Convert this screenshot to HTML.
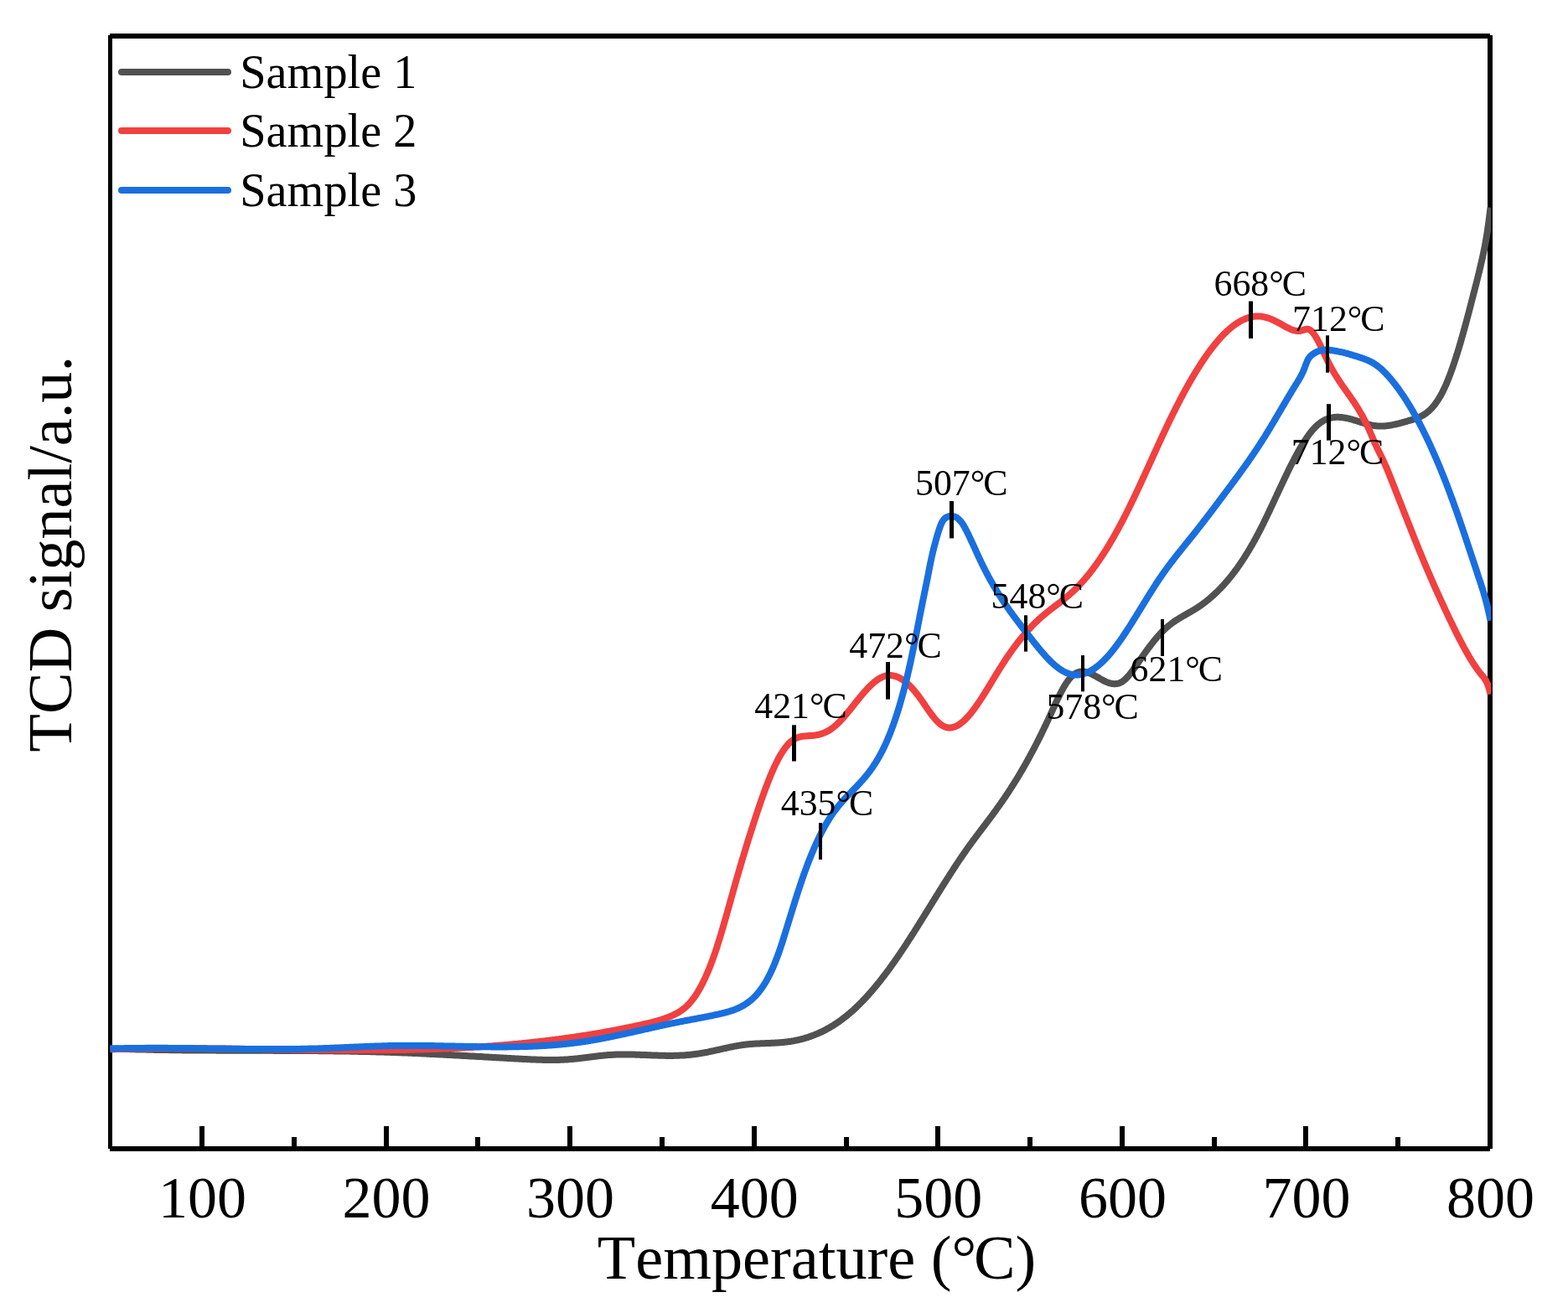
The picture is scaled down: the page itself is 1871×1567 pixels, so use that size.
<!DOCTYPE html>
<html><head><meta charset="utf-8"><title>TCD signal vs Temperature</title>
<style>
html,body{margin:0;padding:0;background:#fff;}
svg{display:block;}
text{font-family:"Liberation Serif",serif;fill:#000;font-kerning:none;}
</style></head><body>
<svg width="1871" height="1567" viewBox="0 0 1871 1567">
<rect width="1871" height="1567" fill="#fff"/>

<g stroke="#000" fill="none" shape-rendering="crispEdges">
<line x1="131" y1="43" x2="1778" y2="43" stroke-width="6"/>
<line x1="131" y1="1371" x2="1778" y2="1371" stroke-width="6"/>
<line x1="131.5" y1="42" x2="131.5" y2="1371" stroke-width="5"/>
<line x1="1778" y1="42" x2="1778" y2="1371" stroke-width="6"/>
<line x1="241" y1="1344" x2="241" y2="1369" stroke-width="6"/>
<line x1="461" y1="1344" x2="461" y2="1369" stroke-width="6"/>
<line x1="680" y1="1344" x2="680" y2="1369" stroke-width="6"/>
<line x1="900" y1="1344" x2="900" y2="1369" stroke-width="6"/>
<line x1="1119" y1="1344" x2="1119" y2="1369" stroke-width="6"/>
<line x1="1339" y1="1344" x2="1339" y2="1369" stroke-width="6"/>
<line x1="1558" y1="1344" x2="1558" y2="1369" stroke-width="6"/>
<line x1="351" y1="1357" x2="351" y2="1369" stroke-width="6"/>
<line x1="570" y1="1357" x2="570" y2="1369" stroke-width="6"/>
<line x1="790" y1="1357" x2="790" y2="1369" stroke-width="6"/>
<line x1="1010" y1="1357" x2="1010" y2="1369" stroke-width="6"/>
<line x1="1229" y1="1357" x2="1229" y2="1369" stroke-width="6"/>
<line x1="1449" y1="1357" x2="1449" y2="1369" stroke-width="6"/>
<line x1="1668" y1="1357" x2="1668" y2="1369" stroke-width="6"/>
</g>
<clipPath id="c"><rect x="129" y="40" width="1650" height="1334"/></clipPath>
<g fill="none" stroke-width="8" stroke-linejoin="round" stroke-linecap="butt" clip-path="url(#c)">
<path stroke="#515151" d="M131.5,1251.4 L132.5,1251.4 L133.5,1251.5 L134.5,1251.5 L135.5,1251.5 L136.5,1251.6 L137.5,1251.6 L138.5,1251.6 L139.5,1251.7 L140.5,1251.7 L141.5,1251.7 L142.5,1251.8 L143.5,1251.8 L144.5,1251.8 L145.5,1251.9 L146.5,1251.9 L147.5,1251.9 L148.5,1252.0 L149.5,1252.0 L150.5,1252.0 L151.5,1252.1 L152.5,1252.1 L153.5,1252.1 L154.5,1252.1 L155.5,1252.2 L156.5,1252.2 L157.5,1252.2 L158.5,1252.3 L159.5,1252.3 L160.5,1252.3 L161.5,1252.3 L162.5,1252.4 L163.5,1252.4 L164.5,1252.4 L165.5,1252.4 L166.5,1252.5 L167.5,1252.5 L168.5,1252.5 L169.5,1252.5 L170.5,1252.6 L171.5,1252.6 L172.5,1252.6 L173.5,1252.6 L174.5,1252.6 L175.5,1252.7 L176.5,1252.7 L177.5,1252.7 L178.5,1252.7 L179.5,1252.8 L180.5,1252.8 L181.5,1252.8 L182.5,1252.8 L183.5,1252.8 L184.5,1252.9 L185.5,1252.9 L186.5,1252.9 L187.5,1252.9 L188.5,1252.9 L189.5,1252.9 L190.5,1253.0 L191.5,1253.0 L192.5,1253.0 L193.5,1253.0 L194.5,1253.0 L195.5,1253.0 L196.5,1253.1 L197.5,1253.1 L198.5,1253.1 L199.5,1253.1 L200.5,1253.1 L201.5,1253.1 L202.5,1253.2 L203.5,1253.2 L204.5,1253.2 L205.5,1253.2 L206.5,1253.2 L207.5,1253.2 L208.5,1253.2 L209.5,1253.2 L210.5,1253.3 L211.5,1253.3 L212.5,1253.3 L213.5,1253.3 L214.5,1253.3 L215.5,1253.3 L216.5,1253.3 L217.5,1253.3 L218.5,1253.4 L219.5,1253.4 L220.5,1253.4 L221.5,1253.4 L222.5,1253.4 L223.5,1253.4 L224.5,1253.4 L225.5,1253.4 L226.5,1253.4 L227.5,1253.4 L228.5,1253.5 L229.5,1253.5 L230.5,1253.5 L231.5,1253.5 L232.5,1253.5 L233.5,1253.5 L234.5,1253.5 L235.5,1253.5 L236.5,1253.5 L237.5,1253.5 L238.5,1253.5 L239.5,1253.5 L240.5,1253.5 L241.5,1253.6 L242.5,1253.6 L243.5,1253.6 L244.5,1253.6 L245.5,1253.6 L246.5,1253.6 L247.5,1253.6 L248.5,1253.6 L249.5,1253.6 L250.5,1253.6 L251.5,1253.6 L252.5,1253.6 L253.5,1253.6 L254.5,1253.6 L255.5,1253.6 L256.5,1253.6 L257.5,1253.6 L258.5,1253.7 L259.5,1253.7 L260.5,1253.7 L261.5,1253.7 L262.5,1253.7 L263.5,1253.7 L264.5,1253.7 L265.5,1253.7 L266.5,1253.7 L267.5,1253.7 L268.5,1253.7 L269.5,1253.7 L270.5,1253.7 L271.5,1253.7 L272.5,1253.7 L273.5,1253.7 L274.5,1253.7 L275.5,1253.7 L276.5,1253.7 L277.5,1253.7 L278.5,1253.7 L279.5,1253.7 L280.5,1253.7 L281.5,1253.7 L282.5,1253.7 L283.5,1253.7 L284.5,1253.7 L285.5,1253.7 L286.5,1253.8 L287.5,1253.8 L288.5,1253.8 L289.5,1253.8 L290.5,1253.8 L291.5,1253.8 L292.5,1253.8 L293.5,1253.8 L294.5,1253.8 L295.5,1253.8 L296.5,1253.8 L297.5,1253.8 L298.5,1253.8 L299.5,1253.8 L300.5,1253.8 L301.5,1253.8 L302.5,1253.8 L303.5,1253.8 L304.5,1253.8 L305.5,1253.8 L306.5,1253.8 L307.5,1253.8 L308.5,1253.8 L309.5,1253.8 L310.5,1253.8 L311.5,1253.8 L312.5,1253.8 L313.5,1253.8 L314.5,1253.8 L315.5,1253.8 L316.5,1253.8 L317.5,1253.8 L318.5,1253.8 L319.5,1253.8 L320.5,1253.8 L321.5,1253.8 L322.5,1253.8 L323.5,1253.8 L324.5,1253.8 L325.5,1253.8 L326.5,1253.9 L327.5,1253.9 L328.5,1253.9 L329.5,1253.9 L330.5,1253.9 L331.5,1253.9 L332.5,1253.9 L333.5,1253.9 L334.5,1253.9 L335.5,1253.9 L336.5,1253.9 L337.5,1253.9 L338.5,1253.9 L339.5,1253.9 L340.5,1253.9 L341.5,1253.9 L342.5,1253.9 L343.5,1253.9 L344.5,1253.9 L345.5,1253.9 L346.5,1253.9 L347.5,1253.9 L348.5,1253.9 L349.5,1253.9 L350.5,1253.9 L351.5,1253.9 L352.5,1254.0 L353.5,1254.0 L354.5,1254.0 L355.5,1254.0 L356.5,1254.0 L357.5,1254.0 L358.5,1254.0 L359.5,1254.0 L360.5,1254.0 L361.5,1254.0 L362.5,1254.0 L363.5,1254.0 L364.5,1254.0 L365.5,1254.0 L366.5,1254.0 L367.5,1254.0 L368.5,1254.1 L369.5,1254.1 L370.5,1254.1 L371.5,1254.1 L372.5,1254.1 L373.5,1254.1 L374.5,1254.1 L375.5,1254.1 L376.5,1254.1 L377.5,1254.1 L378.5,1254.1 L379.5,1254.1 L380.5,1254.2 L381.5,1254.2 L382.5,1254.2 L383.5,1254.2 L384.5,1254.2 L385.5,1254.2 L386.5,1254.2 L387.5,1254.2 L388.5,1254.2 L389.5,1254.2 L390.5,1254.3 L391.5,1254.3 L392.5,1254.3 L393.5,1254.3 L394.5,1254.3 L395.5,1254.3 L396.5,1254.3 L397.5,1254.3 L398.5,1254.4 L399.5,1254.4 L400.5,1254.4 L401.5,1254.4 L402.5,1254.4 L403.5,1254.4 L404.5,1254.4 L405.5,1254.4 L406.5,1254.5 L407.5,1254.5 L408.5,1254.5 L409.5,1254.5 L410.5,1254.5 L411.5,1254.5 L412.5,1254.6 L413.5,1254.6 L414.5,1254.6 L415.5,1254.6 L416.5,1254.6 L417.5,1254.6 L418.5,1254.7 L419.5,1254.7 L420.5,1254.7 L421.5,1254.7 L422.5,1254.7 L423.5,1254.8 L424.5,1254.8 L425.5,1254.8 L426.5,1254.8 L427.5,1254.8 L428.5,1254.9 L429.5,1254.9 L430.5,1254.9 L431.5,1254.9 L432.5,1254.9 L433.5,1255.0 L434.5,1255.0 L435.5,1255.0 L436.5,1255.0 L437.5,1255.1 L438.5,1255.1 L439.5,1255.1 L440.5,1255.1 L441.5,1255.1 L442.5,1255.2 L443.5,1255.2 L444.5,1255.2 L445.5,1255.3 L446.5,1255.3 L447.5,1255.3 L448.5,1255.3 L449.5,1255.4 L450.5,1255.4 L451.5,1255.4 L452.5,1255.4 L453.5,1255.5 L454.5,1255.5 L455.5,1255.5 L456.5,1255.6 L457.5,1255.6 L458.5,1255.6 L459.5,1255.7 L460.5,1255.7 L461.5,1255.7 L462.5,1255.7 L463.5,1255.8 L464.5,1255.8 L465.5,1255.8 L466.5,1255.9 L467.5,1255.9 L468.5,1255.9 L469.5,1256.0 L470.5,1256.0 L471.5,1256.1 L472.5,1256.1 L473.5,1256.1 L474.5,1256.2 L475.5,1256.2 L476.5,1256.2 L477.5,1256.3 L478.5,1256.3 L479.5,1256.4 L480.5,1256.4 L481.5,1256.4 L482.5,1256.5 L483.5,1256.5 L484.5,1256.5 L485.5,1256.6 L486.5,1256.6 L487.5,1256.7 L488.5,1256.7 L489.5,1256.8 L490.5,1256.8 L491.5,1256.8 L492.5,1256.9 L493.5,1256.9 L494.5,1257.0 L495.5,1257.0 L496.5,1257.1 L497.5,1257.1 L498.5,1257.1 L499.5,1257.2 L500.5,1257.2 L501.5,1257.3 L502.5,1257.3 L503.5,1257.4 L504.5,1257.4 L505.5,1257.5 L506.5,1257.5 L507.5,1257.6 L508.5,1257.6 L509.5,1257.7 L510.5,1257.7 L511.5,1257.8 L512.5,1257.8 L513.5,1257.9 L514.5,1257.9 L515.5,1258.0 L516.5,1258.0 L517.5,1258.1 L518.5,1258.1 L519.5,1258.2 L520.5,1258.2 L521.5,1258.3 L522.5,1258.3 L523.5,1258.4 L524.5,1258.4 L525.5,1258.5 L526.5,1258.5 L527.5,1258.6 L528.5,1258.6 L529.5,1258.7 L530.5,1258.7 L531.5,1258.8 L532.5,1258.8 L533.5,1258.9 L534.5,1258.9 L535.5,1259.0 L536.5,1259.0 L537.5,1259.1 L538.5,1259.1 L539.5,1259.2 L540.5,1259.2 L541.5,1259.3 L542.5,1259.4 L543.5,1259.4 L544.5,1259.5 L545.5,1259.5 L546.5,1259.6 L547.5,1259.6 L548.5,1259.7 L549.5,1259.7 L550.5,1259.8 L551.5,1259.9 L552.5,1259.9 L553.5,1260.0 L554.5,1260.0 L555.5,1260.1 L556.5,1260.1 L557.5,1260.2 L558.5,1260.2 L559.5,1260.3 L560.5,1260.4 L561.5,1260.4 L562.5,1260.5 L563.5,1260.5 L564.5,1260.6 L565.5,1260.6 L566.5,1260.7 L567.5,1260.7 L568.5,1260.8 L569.5,1260.9 L570.5,1260.9 L571.5,1261.0 L572.5,1261.0 L573.5,1261.1 L574.5,1261.1 L575.5,1261.2 L576.5,1261.3 L577.5,1261.3 L578.5,1261.4 L579.5,1261.4 L580.5,1261.5 L581.5,1261.5 L582.5,1261.6 L583.5,1261.7 L584.5,1261.7 L585.5,1261.8 L586.5,1261.8 L587.5,1261.9 L588.5,1261.9 L589.5,1262.0 L590.5,1262.1 L591.5,1262.1 L592.5,1262.2 L593.5,1262.2 L594.5,1262.3 L595.5,1262.3 L596.5,1262.4 L597.5,1262.4 L598.5,1262.5 L599.5,1262.6 L600.5,1262.6 L601.5,1262.7 L602.5,1262.7 L603.5,1262.8 L604.5,1262.8 L605.5,1262.9 L606.5,1262.9 L607.5,1263.0 L608.5,1263.1 L609.5,1263.1 L610.5,1263.2 L611.5,1263.2 L612.5,1263.3 L613.5,1263.3 L614.5,1263.4 L615.5,1263.4 L616.5,1263.5 L617.5,1263.6 L618.5,1263.6 L619.5,1263.7 L620.5,1263.7 L621.5,1263.8 L622.5,1263.8 L623.5,1263.9 L624.5,1263.9 L625.5,1264.0 L626.5,1264.0 L627.5,1264.1 L628.5,1264.1 L629.5,1264.2 L630.5,1264.2 L631.5,1264.3 L632.5,1264.3 L633.5,1264.4 L634.5,1264.4 L635.5,1264.5 L636.5,1264.5 L637.5,1264.5 L638.5,1264.6 L639.5,1264.6 L640.5,1264.7 L641.5,1264.7 L642.5,1264.7 L643.5,1264.8 L644.5,1264.8 L645.5,1264.8 L646.5,1264.8 L647.5,1264.9 L648.5,1264.9 L649.5,1264.9 L650.5,1264.9 L651.5,1265.0 L652.5,1265.0 L653.5,1265.0 L654.5,1265.0 L655.5,1265.0 L656.5,1265.0 L657.5,1265.0 L658.5,1265.0 L659.5,1265.0 L660.5,1265.0 L661.5,1265.0 L662.5,1265.0 L663.5,1264.9 L664.5,1264.9 L665.5,1264.9 L666.5,1264.9 L667.5,1264.9 L668.5,1264.8 L669.5,1264.8 L670.5,1264.7 L671.5,1264.7 L672.5,1264.7 L673.5,1264.6 L674.5,1264.6 L675.5,1264.5 L676.5,1264.4 L677.5,1264.4 L678.5,1264.3 L679.5,1264.2 L680.5,1264.1 L681.5,1264.1 L682.5,1264.0 L683.5,1263.9 L684.5,1263.8 L685.5,1263.7 L686.5,1263.6 L687.5,1263.5 L688.5,1263.4 L689.5,1263.3 L690.5,1263.2 L691.5,1263.0 L692.5,1262.9 L693.5,1262.8 L694.5,1262.7 L695.5,1262.6 L696.5,1262.4 L697.5,1262.3 L698.5,1262.2 L699.5,1262.1 L700.5,1261.9 L701.5,1261.8 L702.5,1261.7 L703.5,1261.6 L704.5,1261.4 L705.5,1261.3 L706.5,1261.2 L707.5,1261.1 L708.5,1260.9 L709.5,1260.8 L710.5,1260.7 L711.5,1260.6 L712.5,1260.5 L713.5,1260.3 L714.5,1260.2 L715.5,1260.1 L716.5,1260.0 L717.5,1259.9 L718.5,1259.8 L719.5,1259.7 L720.5,1259.6 L721.5,1259.5 L722.5,1259.4 L723.5,1259.3 L724.5,1259.2 L725.5,1259.1 L726.5,1259.1 L727.5,1259.0 L728.5,1258.9 L729.5,1258.9 L730.5,1258.8 L731.5,1258.8 L732.5,1258.7 L733.5,1258.7 L734.5,1258.6 L735.5,1258.6 L736.5,1258.6 L737.5,1258.5 L738.5,1258.5 L739.5,1258.5 L740.5,1258.5 L741.5,1258.5 L742.5,1258.4 L743.5,1258.4 L744.5,1258.4 L745.5,1258.4 L746.5,1258.4 L747.5,1258.4 L748.5,1258.5 L749.5,1258.5 L750.5,1258.5 L751.5,1258.5 L752.5,1258.5 L753.5,1258.5 L754.5,1258.5 L755.5,1258.6 L756.5,1258.6 L757.5,1258.6 L758.5,1258.7 L759.5,1258.7 L760.5,1258.7 L761.5,1258.8 L762.5,1258.8 L763.5,1258.8 L764.5,1258.9 L765.5,1258.9 L766.5,1258.9 L767.5,1259.0 L768.5,1259.0 L769.5,1259.0 L770.5,1259.1 L771.5,1259.1 L772.5,1259.2 L773.5,1259.2 L774.5,1259.2 L775.5,1259.3 L776.5,1259.3 L777.5,1259.4 L778.5,1259.4 L779.5,1259.4 L780.5,1259.5 L781.5,1259.5 L782.5,1259.6 L783.5,1259.6 L784.5,1259.6 L785.5,1259.7 L786.5,1259.7 L787.5,1259.7 L788.5,1259.7 L789.5,1259.8 L790.5,1259.8 L791.5,1259.8 L792.5,1259.8 L793.5,1259.8 L794.5,1259.9 L795.5,1259.9 L796.5,1259.9 L797.5,1259.9 L798.5,1259.9 L799.5,1259.9 L800.5,1259.9 L801.5,1259.9 L802.5,1259.9 L803.5,1259.9 L804.5,1259.8 L805.5,1259.8 L806.5,1259.8 L807.5,1259.8 L808.5,1259.8 L809.5,1259.7 L810.5,1259.7 L811.5,1259.6 L812.5,1259.6 L813.5,1259.5 L814.5,1259.5 L815.5,1259.4 L816.5,1259.4 L817.5,1259.3 L818.5,1259.2 L819.5,1259.1 L820.5,1259.1 L821.5,1259.0 L822.5,1258.9 L823.5,1258.8 L824.5,1258.7 L825.5,1258.6 L826.5,1258.4 L827.5,1258.3 L828.5,1258.2 L829.5,1258.1 L830.5,1257.9 L831.5,1257.8 L832.5,1257.7 L833.5,1257.5 L834.5,1257.4 L835.5,1257.2 L836.5,1257.0 L837.5,1256.9 L838.5,1256.7 L839.5,1256.5 L840.5,1256.3 L841.5,1256.1 L842.5,1256.0 L843.5,1255.8 L844.5,1255.6 L845.5,1255.4 L846.5,1255.2 L847.5,1255.0 L848.5,1254.7 L849.5,1254.5 L850.5,1254.3 L851.5,1254.1 L852.5,1253.9 L853.5,1253.7 L854.5,1253.4 L855.5,1253.2 L856.5,1253.0 L857.5,1252.8 L858.5,1252.5 L859.5,1252.3 L860.5,1252.1 L861.5,1251.9 L862.5,1251.6 L863.5,1251.4 L864.5,1251.2 L865.5,1251.0 L866.5,1250.8 L867.5,1250.5 L868.5,1250.3 L869.5,1250.1 L870.5,1249.9 L871.5,1249.7 L872.5,1249.5 L873.5,1249.3 L874.5,1249.1 L875.5,1248.9 L876.5,1248.7 L877.5,1248.5 L878.5,1248.3 L879.5,1248.1 L880.5,1248.0 L881.5,1247.8 L882.5,1247.6 L883.5,1247.5 L884.5,1247.3 L885.5,1247.2 L886.5,1247.0 L887.5,1246.9 L888.5,1246.8 L889.5,1246.6 L890.5,1246.5 L891.5,1246.4 L892.5,1246.3 L893.5,1246.2 L894.5,1246.1 L895.5,1246.0 L896.5,1246.0 L897.5,1245.9 L898.5,1245.8 L899.5,1245.8 L900.5,1245.7 L901.5,1245.6 L902.5,1245.6 L903.5,1245.5 L904.5,1245.5 L905.5,1245.4 L906.5,1245.4 L907.5,1245.3 L908.5,1245.3 L909.5,1245.3 L910.5,1245.2 L911.5,1245.2 L912.5,1245.2 L913.5,1245.1 L914.5,1245.1 L915.5,1245.0 L916.5,1245.0 L917.5,1245.0 L918.5,1244.9 L919.5,1244.9 L920.5,1244.8 L921.5,1244.8 L922.5,1244.8 L923.5,1244.7 L924.5,1244.7 L925.5,1244.6 L926.5,1244.5 L927.5,1244.5 L928.5,1244.4 L929.5,1244.3 L930.5,1244.3 L931.5,1244.2 L932.5,1244.1 L933.5,1244.0 L934.5,1243.9 L935.5,1243.8 L936.5,1243.7 L937.5,1243.6 L938.5,1243.5 L939.5,1243.4 L940.5,1243.2 L941.5,1243.1 L942.5,1243.0 L943.5,1242.8 L944.5,1242.6 L945.5,1242.5 L946.5,1242.3 L947.5,1242.1 L948.5,1241.9 L949.5,1241.7 L950.5,1241.5 L951.5,1241.3 L952.5,1241.1 L953.5,1240.8 L954.5,1240.6 L955.5,1240.4 L956.5,1240.1 L957.5,1239.8 L958.5,1239.6 L959.5,1239.3 L960.5,1239.0 L961.5,1238.7 L962.5,1238.4 L963.5,1238.1 L964.5,1237.8 L965.5,1237.4 L966.5,1237.1 L967.5,1236.7 L968.5,1236.4 L969.5,1236.0 L970.5,1235.6 L971.5,1235.2 L972.5,1234.8 L973.5,1234.4 L974.5,1234.0 L975.5,1233.6 L976.5,1233.1 L977.5,1232.7 L978.5,1232.2 L979.5,1231.8 L980.5,1231.3 L981.5,1230.8 L982.5,1230.3 L983.5,1229.8 L984.5,1229.3 L985.5,1228.8 L986.5,1228.2 L987.5,1227.7 L988.5,1227.1 L989.5,1226.6 L990.5,1226.0 L991.5,1225.4 L992.5,1224.8 L993.5,1224.2 L994.5,1223.6 L995.5,1222.9 L996.5,1222.3 L997.5,1221.6 L998.5,1221.0 L999.5,1220.3 L1000.5,1219.6 L1001.5,1218.9 L1002.5,1218.2 L1003.5,1217.5 L1004.5,1216.7 L1005.5,1216.0 L1006.5,1215.2 L1007.5,1214.4 L1008.5,1213.7 L1009.5,1212.9 L1010.5,1212.1 L1011.5,1211.2 L1012.5,1210.4 L1013.5,1209.6 L1014.5,1208.7 L1015.5,1207.9 L1016.5,1207.0 L1017.5,1206.1 L1018.5,1205.2 L1019.5,1204.3 L1020.5,1203.3 L1021.5,1202.4 L1022.5,1201.4 L1023.5,1200.5 L1024.5,1199.5 L1025.5,1198.5 L1026.5,1197.5 L1027.5,1196.5 L1028.5,1195.5 L1029.5,1194.4 L1030.5,1193.4 L1031.5,1192.3 L1032.5,1191.3 L1033.5,1190.2 L1034.5,1189.1 L1035.5,1188.0 L1036.5,1186.9 L1037.5,1185.8 L1038.5,1184.6 L1039.5,1183.5 L1040.5,1182.3 L1041.5,1181.2 L1042.5,1180.0 L1043.5,1178.8 L1044.5,1177.6 L1045.5,1176.4 L1046.5,1175.2 L1047.5,1173.9 L1048.5,1172.7 L1049.5,1171.5 L1050.5,1170.2 L1051.5,1168.9 L1052.5,1167.6 L1053.5,1166.3 L1054.5,1165.1 L1055.5,1163.7 L1056.5,1162.4 L1057.5,1161.1 L1058.5,1159.8 L1059.5,1158.4 L1060.5,1157.1 L1061.5,1155.7 L1062.5,1154.3 L1063.5,1152.9 L1064.5,1151.5 L1065.5,1150.1 L1066.5,1148.7 L1067.5,1147.3 L1068.5,1145.9 L1069.5,1144.4 L1070.5,1143.0 L1071.5,1141.5 L1072.5,1140.1 L1073.5,1138.6 L1074.5,1137.1 L1075.5,1135.6 L1076.5,1134.1 L1077.5,1132.6 L1078.5,1131.1 L1079.5,1129.6 L1080.5,1128.1 L1081.5,1126.6 L1082.5,1125.0 L1083.5,1123.5 L1084.5,1121.9 L1085.5,1120.4 L1086.5,1118.8 L1087.5,1117.3 L1088.5,1115.7 L1089.5,1114.1 L1090.5,1112.6 L1091.5,1111.0 L1092.5,1109.4 L1093.5,1107.8 L1094.5,1106.2 L1095.5,1104.6 L1096.5,1103.0 L1097.5,1101.4 L1098.5,1099.8 L1099.5,1098.2 L1100.5,1096.6 L1101.5,1095.0 L1102.5,1093.4 L1103.5,1091.8 L1104.5,1090.2 L1105.5,1088.6 L1106.5,1086.9 L1107.5,1085.3 L1108.5,1083.7 L1109.5,1082.1 L1110.5,1080.5 L1111.5,1078.9 L1112.5,1077.2 L1113.5,1075.6 L1114.5,1074.0 L1115.5,1072.4 L1116.5,1070.8 L1117.5,1069.2 L1118.5,1067.6 L1119.5,1066.0 L1120.5,1064.3 L1121.5,1062.7 L1122.5,1061.1 L1123.5,1059.5 L1124.5,1057.9 L1125.5,1056.3 L1126.5,1054.8 L1127.5,1053.2 L1128.5,1051.6 L1129.5,1050.0 L1130.5,1048.4 L1131.5,1046.9 L1132.5,1045.3 L1133.5,1043.7 L1134.5,1042.2 L1135.5,1040.6 L1136.5,1039.1 L1137.5,1037.5 L1138.5,1036.0 L1139.5,1034.5 L1140.5,1033.0 L1141.5,1031.4 L1142.5,1029.9 L1143.5,1028.4 L1144.5,1026.9 L1145.5,1025.4 L1146.5,1024.0 L1147.5,1022.5 L1148.5,1021.0 L1149.5,1019.6 L1150.5,1018.1 L1151.5,1016.7 L1152.5,1015.2 L1153.5,1013.8 L1154.5,1012.4 L1155.5,1011.0 L1156.5,1009.6 L1157.5,1008.2 L1158.5,1006.9 L1159.5,1005.5 L1160.5,1004.1 L1161.5,1002.8 L1162.5,1001.4 L1163.5,1000.1 L1164.5,998.7 L1165.5,997.4 L1166.5,996.1 L1167.5,994.7 L1168.5,993.4 L1169.5,992.1 L1170.5,990.8 L1171.5,989.5 L1172.5,988.1 L1173.5,986.8 L1174.5,985.5 L1175.5,984.2 L1176.5,982.9 L1177.5,981.5 L1178.5,980.2 L1179.5,978.9 L1180.5,977.5 L1181.5,976.2 L1182.5,974.9 L1183.5,973.5 L1184.5,972.2 L1185.5,970.8 L1186.5,969.5 L1187.5,968.1 L1188.5,966.7 L1189.5,965.3 L1190.5,963.9 L1191.5,962.5 L1192.5,961.1 L1193.5,959.7 L1194.5,958.3 L1195.5,956.8 L1196.5,955.4 L1197.5,953.9 L1198.5,952.5 L1199.5,951.0 L1200.5,949.5 L1201.5,948.0 L1202.5,946.5 L1203.5,945.0 L1204.5,943.4 L1205.5,941.9 L1206.5,940.3 L1207.5,938.8 L1208.5,937.2 L1209.5,935.6 L1210.5,934.0 L1211.5,932.4 L1212.5,930.8 L1213.5,929.2 L1214.5,927.5 L1215.5,925.9 L1216.5,924.2 L1217.5,922.5 L1218.5,920.8 L1219.5,919.1 L1220.5,917.4 L1221.5,915.7 L1222.5,913.9 L1223.5,912.2 L1224.5,910.4 L1225.5,908.6 L1226.5,906.8 L1227.5,905.0 L1228.5,903.1 L1229.5,901.3 L1230.5,899.4 L1231.5,897.6 L1232.5,895.7 L1233.5,893.8 L1234.5,891.9 L1235.5,890.0 L1236.5,888.0 L1237.5,886.1 L1238.5,884.1 L1239.5,882.1 L1240.5,880.1 L1241.5,878.1 L1242.5,876.1 L1243.5,874.0 L1244.5,872.0 L1245.5,869.9 L1246.5,867.8 L1247.5,865.7 L1248.5,863.6 L1249.5,861.5 L1250.5,859.3 L1251.5,857.1 L1252.5,855.0 L1253.5,852.8 L1254.5,850.6 L1255.5,848.4 L1256.5,846.2 L1257.5,844.0 L1258.5,841.8 L1259.5,839.7 L1260.5,837.5 L1261.5,835.4 L1262.5,833.3 L1263.5,831.3 L1264.5,829.3 L1265.5,827.3 L1266.5,825.4 L1267.5,823.5 L1268.5,821.7 L1269.5,819.9 L1270.5,818.2 L1271.5,816.6 L1272.5,815.0 L1273.5,813.6 L1274.5,812.2 L1275.5,810.9 L1276.5,809.6 L1277.5,808.5 L1278.5,807.5 L1279.5,806.5 L1280.5,805.7 L1281.5,804.9 L1282.5,804.2 L1283.5,803.6 L1284.5,803.1 L1285.5,802.6 L1286.5,802.3 L1287.5,802.0 L1288.5,801.7 L1289.5,801.6 L1290.5,801.5 L1291.5,801.4 L1292.5,801.5 L1293.5,801.6 L1294.5,801.7 L1295.5,801.9 L1296.5,802.1 L1297.5,802.4 L1298.5,802.7 L1299.5,803.1 L1300.5,803.5 L1301.5,803.9 L1302.5,804.4 L1303.5,804.9 L1304.5,805.4 L1305.5,805.9 L1306.5,806.5 L1307.5,807.0 L1308.5,807.6 L1309.5,808.2 L1310.5,808.7 L1311.5,809.3 L1312.5,809.9 L1313.5,810.5 L1314.5,811.0 L1315.5,811.6 L1316.5,812.1 L1317.5,812.6 L1318.5,813.1 L1319.5,813.6 L1320.5,814.0 L1321.5,814.4 L1322.5,814.8 L1323.5,815.1 L1324.5,815.4 L1325.5,815.7 L1326.5,815.9 L1327.5,816.0 L1328.5,816.1 L1329.5,816.2 L1330.5,816.2 L1331.5,816.1 L1332.5,816.0 L1333.5,815.8 L1334.5,815.6 L1335.5,815.3 L1336.5,814.9 L1337.5,814.4 L1338.5,813.9 L1339.5,813.2 L1340.5,812.5 L1341.5,811.7 L1342.5,810.9 L1343.5,809.9 L1344.5,808.9 L1345.5,807.8 L1346.5,806.7 L1347.5,805.5 L1348.5,804.3 L1349.5,803.0 L1350.5,801.7 L1351.5,800.3 L1352.5,798.9 L1353.5,797.5 L1354.5,796.1 L1355.5,794.6 L1356.5,793.2 L1357.5,791.7 L1358.5,790.2 L1359.5,788.8 L1360.5,787.3 L1361.5,785.9 L1362.5,784.4 L1363.5,783.0 L1364.5,781.6 L1365.5,780.2 L1366.5,778.8 L1367.5,777.4 L1368.5,776.0 L1369.5,774.7 L1370.5,773.3 L1371.5,772.0 L1372.5,770.7 L1373.5,769.4 L1374.5,768.1 L1375.5,766.8 L1376.5,765.6 L1377.5,764.3 L1378.5,763.1 L1379.5,761.9 L1380.5,760.7 L1381.5,759.6 L1382.5,758.5 L1383.5,757.4 L1384.5,756.3 L1385.5,755.2 L1386.5,754.2 L1387.5,753.2 L1388.5,752.2 L1389.5,751.2 L1390.5,750.3 L1391.5,749.4 L1392.5,748.5 L1393.5,747.7 L1394.5,746.8 L1395.5,746.0 L1396.5,745.3 L1397.5,744.5 L1398.5,743.7 L1399.5,743.0 L1400.5,742.3 L1401.5,741.6 L1402.5,740.9 L1403.5,740.3 L1404.5,739.6 L1405.5,739.0 L1406.5,738.4 L1407.5,737.8 L1408.5,737.1 L1409.5,736.5 L1410.5,736.0 L1411.5,735.4 L1412.5,734.8 L1413.5,734.2 L1414.5,733.6 L1415.5,733.1 L1416.5,732.5 L1417.5,731.9 L1418.5,731.4 L1419.5,730.8 L1420.5,730.2 L1421.5,729.6 L1422.5,729.0 L1423.5,728.5 L1424.5,727.9 L1425.5,727.2 L1426.5,726.6 L1427.5,726.0 L1428.5,725.4 L1429.5,724.7 L1430.5,724.0 L1431.5,723.4 L1432.5,722.7 L1433.5,722.0 L1434.5,721.3 L1435.5,720.5 L1436.5,719.8 L1437.5,719.0 L1438.5,718.3 L1439.5,717.5 L1440.5,716.7 L1441.5,715.9 L1442.5,715.1 L1443.5,714.2 L1444.5,713.4 L1445.5,712.5 L1446.5,711.6 L1447.5,710.7 L1448.5,709.8 L1449.5,708.9 L1450.5,707.9 L1451.5,707.0 L1452.5,706.0 L1453.5,705.0 L1454.5,704.0 L1455.5,703.0 L1456.5,702.0 L1457.5,700.9 L1458.5,699.8 L1459.5,698.8 L1460.5,697.7 L1461.5,696.5 L1462.5,695.4 L1463.5,694.3 L1464.5,693.1 L1465.5,691.9 L1466.5,690.7 L1467.5,689.5 L1468.5,688.2 L1469.5,687.0 L1470.5,685.7 L1471.5,684.4 L1472.5,683.1 L1473.5,681.8 L1474.5,680.4 L1475.5,679.1 L1476.5,677.7 L1477.5,676.3 L1478.5,674.8 L1479.5,673.4 L1480.5,671.9 L1481.5,670.5 L1482.5,668.9 L1483.5,667.4 L1484.5,665.9 L1485.5,664.3 L1486.5,662.7 L1487.5,661.1 L1488.5,659.5 L1489.5,657.9 L1490.5,656.2 L1491.5,654.5 L1492.5,652.8 L1493.5,651.1 L1494.5,649.4 L1495.5,647.6 L1496.5,645.8 L1497.5,644.0 L1498.5,642.1 L1499.5,640.3 L1500.5,638.4 L1501.5,636.5 L1502.5,634.6 L1503.5,632.6 L1504.5,630.7 L1505.5,628.7 L1506.5,626.7 L1507.5,624.7 L1508.5,622.6 L1509.5,620.6 L1510.5,618.5 L1511.5,616.5 L1512.5,614.4 L1513.5,612.3 L1514.5,610.2 L1515.5,608.0 L1516.5,605.9 L1517.5,603.8 L1518.5,601.6 L1519.5,599.5 L1520.5,597.4 L1521.5,595.2 L1522.5,593.1 L1523.5,590.9 L1524.5,588.8 L1525.5,586.6 L1526.5,584.5 L1527.5,582.3 L1528.5,580.2 L1529.5,578.1 L1530.5,576.0 L1531.5,573.8 L1532.5,571.7 L1533.5,569.6 L1534.5,567.6 L1535.5,565.5 L1536.5,563.4 L1537.5,561.4 L1538.5,559.3 L1539.5,557.3 L1540.5,555.3 L1541.5,553.4 L1542.5,551.4 L1543.5,549.5 L1544.5,547.5 L1545.5,545.7 L1546.5,543.8 L1547.5,541.9 L1548.5,540.1 L1549.5,538.3 L1550.5,536.6 L1551.5,534.8 L1552.5,533.1 L1553.5,531.5 L1554.5,529.8 L1555.5,528.2 L1556.5,526.6 L1557.5,525.1 L1558.5,523.6 L1559.5,522.1 L1560.5,520.7 L1561.5,519.3 L1562.5,517.9 L1563.5,516.6 L1564.5,515.4 L1565.5,514.1 L1566.5,513.0 L1567.5,511.8 L1568.5,510.8 L1569.5,509.7 L1570.5,508.7 L1571.5,507.8 L1572.5,506.9 L1573.5,506.1 L1574.5,505.3 L1575.5,504.5 L1576.5,503.8 L1577.5,503.2 L1578.5,502.5 L1579.5,502.0 L1580.5,501.4 L1581.5,500.9 L1582.5,500.5 L1583.5,500.1 L1584.5,499.7 L1585.5,499.4 L1586.5,499.1 L1587.5,498.8 L1588.5,498.6 L1589.5,498.4 L1590.5,498.2 L1591.5,498.1 L1592.5,497.9 L1593.5,497.9 L1594.5,497.8 L1595.5,497.8 L1596.5,497.8 L1597.5,497.8 L1598.5,497.9 L1599.5,497.9 L1600.5,498.0 L1601.5,498.1 L1602.5,498.3 L1603.5,498.4 L1604.5,498.6 L1605.5,498.8 L1606.5,499.0 L1607.5,499.2 L1608.5,499.4 L1609.5,499.6 L1610.5,499.9 L1611.5,500.2 L1612.5,500.4 L1613.5,500.7 L1614.5,501.0 L1615.5,501.3 L1616.5,501.6 L1617.5,501.9 L1618.5,502.2 L1619.5,502.5 L1620.5,502.9 L1621.5,503.2 L1622.5,503.5 L1623.5,503.8 L1624.5,504.1 L1625.5,504.4 L1626.5,504.7 L1627.5,505.1 L1628.5,505.3 L1629.5,505.6 L1630.5,505.9 L1631.5,506.2 L1632.5,506.5 L1633.5,506.7 L1634.5,506.9 L1635.5,507.2 L1636.5,507.4 L1637.5,507.6 L1638.5,507.8 L1639.5,507.9 L1640.5,508.1 L1641.5,508.2 L1642.5,508.3 L1643.5,508.4 L1644.5,508.5 L1645.5,508.5 L1646.5,508.6 L1647.5,508.6 L1648.5,508.6 L1649.5,508.5 L1650.5,508.5 L1651.5,508.5 L1652.5,508.4 L1653.5,508.3 L1654.5,508.2 L1655.5,508.1 L1656.5,507.9 L1657.5,507.8 L1658.5,507.7 L1659.5,507.5 L1660.5,507.3 L1661.5,507.1 L1662.5,506.9 L1663.5,506.7 L1664.5,506.5 L1665.5,506.3 L1666.5,506.0 L1667.5,505.8 L1668.5,505.6 L1669.5,505.3 L1670.5,505.0 L1671.5,504.8 L1672.5,504.5 L1673.5,504.2 L1674.5,504.0 L1675.5,503.7 L1676.5,503.4 L1677.5,503.1 L1678.5,502.8 L1679.5,502.5 L1680.5,502.2 L1681.5,502.0 L1682.5,501.7 L1683.5,501.4 L1684.5,501.1 L1685.5,500.8 L1686.5,500.5 L1687.5,500.1 L1688.5,499.8 L1689.5,499.5 L1690.5,499.1 L1691.5,498.7 L1692.5,498.3 L1693.5,497.9 L1694.5,497.4 L1695.5,496.9 L1696.5,496.4 L1697.5,495.8 L1698.5,495.3 L1699.5,494.6 L1700.5,494.0 L1701.5,493.3 L1702.5,492.5 L1703.5,491.7 L1704.5,490.9 L1705.5,490.0 L1706.5,489.0 L1707.5,488.0 L1708.5,487.0 L1709.5,485.9 L1710.5,484.7 L1711.5,483.5 L1712.5,482.2 L1713.5,480.8 L1714.5,479.4 L1715.5,477.9 L1716.5,476.3 L1717.5,474.7 L1718.5,473.0 L1719.5,471.2 L1720.5,469.3 L1721.5,467.4 L1722.5,465.4 L1723.5,463.3 L1724.5,461.1 L1725.5,458.9 L1726.5,456.5 L1727.5,454.1 L1728.5,451.6 L1729.5,449.1 L1730.5,446.4 L1731.5,443.7 L1732.5,440.9 L1733.5,438.1 L1734.5,435.1 L1735.5,432.2 L1736.5,429.1 L1737.5,426.0 L1738.5,422.8 L1739.5,419.6 L1740.5,416.3 L1741.5,413.0 L1742.5,409.6 L1743.5,406.1 L1744.5,402.6 L1745.5,399.1 L1746.5,395.5 L1747.5,391.9 L1748.5,388.2 L1749.5,384.5 L1750.5,380.8 L1751.5,377.0 L1752.5,373.2 L1753.5,369.4 L1754.5,365.6 L1755.5,361.7 L1756.5,357.8 L1757.5,354.0 L1758.5,350.1 L1759.5,346.2 L1760.5,342.3 L1761.5,338.4 L1762.5,334.4 L1763.5,330.4 L1764.5,326.4 L1765.5,322.2 L1766.5,318.0 L1767.5,313.7 L1768.5,309.3 L1769.5,304.8 L1770.5,300.1 L1771.5,295.2 L1772.5,289.9 L1773.5,284.2 L1774.5,278.1 L1775.5,271.4 L1776.5,264.1 L1777.5,256.1 L1778.5,247.7"/>
<path stroke="#F14040" d="M131.5,1252.3 L132.5,1252.3 L133.5,1252.3 L134.5,1252.2 L135.5,1252.2 L136.5,1252.2 L137.5,1252.1 L138.5,1252.1 L139.5,1252.1 L140.5,1252.1 L141.5,1252.0 L142.5,1252.0 L143.5,1252.0 L144.5,1252.0 L145.5,1251.9 L146.5,1251.9 L147.5,1251.9 L148.5,1251.9 L149.5,1251.8 L150.5,1251.8 L151.5,1251.8 L152.5,1251.8 L153.5,1251.8 L154.5,1251.7 L155.5,1251.7 L156.5,1251.7 L157.5,1251.7 L158.5,1251.7 L159.5,1251.6 L160.5,1251.6 L161.5,1251.6 L162.5,1251.6 L163.5,1251.6 L164.5,1251.6 L165.5,1251.5 L166.5,1251.5 L167.5,1251.5 L168.5,1251.5 L169.5,1251.5 L170.5,1251.5 L171.5,1251.5 L172.5,1251.4 L173.5,1251.4 L174.5,1251.4 L175.5,1251.4 L176.5,1251.4 L177.5,1251.4 L178.5,1251.4 L179.5,1251.4 L180.5,1251.4 L181.5,1251.3 L182.5,1251.3 L183.5,1251.3 L184.5,1251.3 L185.5,1251.3 L186.5,1251.3 L187.5,1251.3 L188.5,1251.3 L189.5,1251.3 L190.5,1251.3 L191.5,1251.3 L192.5,1251.3 L193.5,1251.3 L194.5,1251.2 L195.5,1251.2 L196.5,1251.2 L197.5,1251.2 L198.5,1251.2 L199.5,1251.2 L200.5,1251.2 L201.5,1251.2 L202.5,1251.2 L203.5,1251.2 L204.5,1251.2 L205.5,1251.2 L206.5,1251.2 L207.5,1251.2 L208.5,1251.2 L209.5,1251.2 L210.5,1251.2 L211.5,1251.2 L212.5,1251.2 L213.5,1251.2 L214.5,1251.2 L215.5,1251.2 L216.5,1251.2 L217.5,1251.2 L218.5,1251.2 L219.5,1251.2 L220.5,1251.2 L221.5,1251.2 L222.5,1251.2 L223.5,1251.2 L224.5,1251.2 L225.5,1251.2 L226.5,1251.2 L227.5,1251.2 L228.5,1251.2 L229.5,1251.2 L230.5,1251.2 L231.5,1251.2 L232.5,1251.3 L233.5,1251.3 L234.5,1251.3 L235.5,1251.3 L236.5,1251.3 L237.5,1251.3 L238.5,1251.3 L239.5,1251.3 L240.5,1251.3 L241.5,1251.3 L242.5,1251.3 L243.5,1251.3 L244.5,1251.3 L245.5,1251.3 L246.5,1251.3 L247.5,1251.4 L248.5,1251.4 L249.5,1251.4 L250.5,1251.4 L251.5,1251.4 L252.5,1251.4 L253.5,1251.4 L254.5,1251.4 L255.5,1251.4 L256.5,1251.4 L257.5,1251.4 L258.5,1251.5 L259.5,1251.5 L260.5,1251.5 L261.5,1251.5 L262.5,1251.5 L263.5,1251.5 L264.5,1251.5 L265.5,1251.5 L266.5,1251.5 L267.5,1251.5 L268.5,1251.6 L269.5,1251.6 L270.5,1251.6 L271.5,1251.6 L272.5,1251.6 L273.5,1251.6 L274.5,1251.6 L275.5,1251.6 L276.5,1251.7 L277.5,1251.7 L278.5,1251.7 L279.5,1251.7 L280.5,1251.7 L281.5,1251.7 L282.5,1251.7 L283.5,1251.7 L284.5,1251.8 L285.5,1251.8 L286.5,1251.8 L287.5,1251.8 L288.5,1251.8 L289.5,1251.8 L290.5,1251.8 L291.5,1251.8 L292.5,1251.9 L293.5,1251.9 L294.5,1251.9 L295.5,1251.9 L296.5,1251.9 L297.5,1251.9 L298.5,1251.9 L299.5,1252.0 L300.5,1252.0 L301.5,1252.0 L302.5,1252.0 L303.5,1252.0 L304.5,1252.0 L305.5,1252.0 L306.5,1252.1 L307.5,1252.1 L308.5,1252.1 L309.5,1252.1 L310.5,1252.1 L311.5,1252.1 L312.5,1252.1 L313.5,1252.2 L314.5,1252.2 L315.5,1252.2 L316.5,1252.2 L317.5,1252.2 L318.5,1252.2 L319.5,1252.3 L320.5,1252.3 L321.5,1252.3 L322.5,1252.3 L323.5,1252.3 L324.5,1252.3 L325.5,1252.3 L326.5,1252.4 L327.5,1252.4 L328.5,1252.4 L329.5,1252.4 L330.5,1252.4 L331.5,1252.4 L332.5,1252.4 L333.5,1252.5 L334.5,1252.5 L335.5,1252.5 L336.5,1252.5 L337.5,1252.5 L338.5,1252.5 L339.5,1252.5 L340.5,1252.6 L341.5,1252.6 L342.5,1252.6 L343.5,1252.6 L344.5,1252.6 L345.5,1252.6 L346.5,1252.6 L347.5,1252.7 L348.5,1252.7 L349.5,1252.7 L350.5,1252.7 L351.5,1252.7 L352.5,1252.7 L353.5,1252.7 L354.5,1252.8 L355.5,1252.8 L356.5,1252.8 L357.5,1252.8 L358.5,1252.8 L359.5,1252.8 L360.5,1252.8 L361.5,1252.8 L362.5,1252.9 L363.5,1252.9 L364.5,1252.9 L365.5,1252.9 L366.5,1252.9 L367.5,1252.9 L368.5,1252.9 L369.5,1252.9 L370.5,1253.0 L371.5,1253.0 L372.5,1253.0 L373.5,1253.0 L374.5,1253.0 L375.5,1253.0 L376.5,1253.0 L377.5,1253.0 L378.5,1253.0 L379.5,1253.1 L380.5,1253.1 L381.5,1253.1 L382.5,1253.1 L383.5,1253.1 L384.5,1253.1 L385.5,1253.1 L386.5,1253.1 L387.5,1253.1 L388.5,1253.1 L389.5,1253.2 L390.5,1253.2 L391.5,1253.2 L392.5,1253.2 L393.5,1253.2 L394.5,1253.2 L395.5,1253.2 L396.5,1253.2 L397.5,1253.2 L398.5,1253.2 L399.5,1253.2 L400.5,1253.2 L401.5,1253.2 L402.5,1253.3 L403.5,1253.3 L404.5,1253.3 L405.5,1253.3 L406.5,1253.3 L407.5,1253.3 L408.5,1253.3 L409.5,1253.3 L410.5,1253.3 L411.5,1253.3 L412.5,1253.3 L413.5,1253.3 L414.5,1253.3 L415.5,1253.3 L416.5,1253.3 L417.5,1253.3 L418.5,1253.3 L419.5,1253.3 L420.5,1253.3 L421.5,1253.3 L422.5,1253.3 L423.5,1253.3 L424.5,1253.3 L425.5,1253.3 L426.5,1253.3 L427.5,1253.3 L428.5,1253.3 L429.5,1253.3 L430.5,1253.3 L431.5,1253.3 L432.5,1253.3 L433.5,1253.3 L434.5,1253.3 L435.5,1253.3 L436.5,1253.3 L437.5,1253.3 L438.5,1253.3 L439.5,1253.3 L440.5,1253.3 L441.5,1253.3 L442.5,1253.3 L443.5,1253.3 L444.5,1253.3 L445.5,1253.3 L446.5,1253.3 L447.5,1253.3 L448.5,1253.3 L449.5,1253.3 L450.5,1253.3 L451.5,1253.3 L452.5,1253.3 L453.5,1253.3 L454.5,1253.3 L455.5,1253.2 L456.5,1253.2 L457.5,1253.2 L458.5,1253.2 L459.5,1253.2 L460.5,1253.2 L461.5,1253.2 L462.5,1253.2 L463.5,1253.2 L464.5,1253.2 L465.5,1253.2 L466.5,1253.1 L467.5,1253.1 L468.5,1253.1 L469.5,1253.1 L470.5,1253.1 L471.5,1253.1 L472.5,1253.1 L473.5,1253.0 L474.5,1253.0 L475.5,1253.0 L476.5,1253.0 L477.5,1253.0 L478.5,1253.0 L479.5,1253.0 L480.5,1252.9 L481.5,1252.9 L482.5,1252.9 L483.5,1252.9 L484.5,1252.9 L485.5,1252.8 L486.5,1252.8 L487.5,1252.8 L488.5,1252.8 L489.5,1252.8 L490.5,1252.7 L491.5,1252.7 L492.5,1252.7 L493.5,1252.7 L494.5,1252.7 L495.5,1252.6 L496.5,1252.6 L497.5,1252.6 L498.5,1252.6 L499.5,1252.5 L500.5,1252.5 L501.5,1252.5 L502.5,1252.5 L503.5,1252.4 L504.5,1252.4 L505.5,1252.4 L506.5,1252.3 L507.5,1252.3 L508.5,1252.3 L509.5,1252.3 L510.5,1252.2 L511.5,1252.2 L512.5,1252.2 L513.5,1252.1 L514.5,1252.1 L515.5,1252.1 L516.5,1252.0 L517.5,1252.0 L518.5,1252.0 L519.5,1251.9 L520.5,1251.9 L521.5,1251.9 L522.5,1251.8 L523.5,1251.8 L524.5,1251.8 L525.5,1251.7 L526.5,1251.7 L527.5,1251.6 L528.5,1251.6 L529.5,1251.6 L530.5,1251.5 L531.5,1251.5 L532.5,1251.4 L533.5,1251.4 L534.5,1251.4 L535.5,1251.3 L536.5,1251.3 L537.5,1251.2 L538.5,1251.2 L539.5,1251.1 L540.5,1251.1 L541.5,1251.0 L542.5,1251.0 L543.5,1251.0 L544.5,1250.9 L545.5,1250.9 L546.5,1250.8 L547.5,1250.8 L548.5,1250.7 L549.5,1250.7 L550.5,1250.6 L551.5,1250.6 L552.5,1250.5 L553.5,1250.5 L554.5,1250.4 L555.5,1250.3 L556.5,1250.3 L557.5,1250.2 L558.5,1250.2 L559.5,1250.1 L560.5,1250.1 L561.5,1250.0 L562.5,1249.9 L563.5,1249.9 L564.5,1249.8 L565.5,1249.8 L566.5,1249.7 L567.5,1249.6 L568.5,1249.6 L569.5,1249.5 L570.5,1249.5 L571.5,1249.4 L572.5,1249.3 L573.5,1249.3 L574.5,1249.2 L575.5,1249.1 L576.5,1249.1 L577.5,1249.0 L578.5,1248.9 L579.5,1248.9 L580.5,1248.8 L581.5,1248.7 L582.5,1248.7 L583.5,1248.6 L584.5,1248.5 L585.5,1248.4 L586.5,1248.4 L587.5,1248.3 L588.5,1248.2 L589.5,1248.1 L590.5,1248.1 L591.5,1248.0 L592.5,1247.9 L593.5,1247.8 L594.5,1247.8 L595.5,1247.7 L596.5,1247.6 L597.5,1247.5 L598.5,1247.4 L599.5,1247.4 L600.5,1247.3 L601.5,1247.2 L602.5,1247.1 L603.5,1247.0 L604.5,1246.9 L605.5,1246.9 L606.5,1246.8 L607.5,1246.7 L608.5,1246.6 L609.5,1246.5 L610.5,1246.4 L611.5,1246.3 L612.5,1246.2 L613.5,1246.1 L614.5,1246.1 L615.5,1246.0 L616.5,1245.9 L617.5,1245.8 L618.5,1245.7 L619.5,1245.6 L620.5,1245.5 L621.5,1245.4 L622.5,1245.3 L623.5,1245.2 L624.5,1245.1 L625.5,1245.0 L626.5,1244.9 L627.5,1244.8 L628.5,1244.7 L629.5,1244.6 L630.5,1244.5 L631.5,1244.4 L632.5,1244.3 L633.5,1244.2 L634.5,1244.1 L635.5,1244.0 L636.5,1243.9 L637.5,1243.7 L638.5,1243.6 L639.5,1243.5 L640.5,1243.4 L641.5,1243.3 L642.5,1243.2 L643.5,1243.1 L644.5,1243.0 L645.5,1242.8 L646.5,1242.7 L647.5,1242.6 L648.5,1242.5 L649.5,1242.4 L650.5,1242.3 L651.5,1242.1 L652.5,1242.0 L653.5,1241.9 L654.5,1241.8 L655.5,1241.7 L656.5,1241.5 L657.5,1241.4 L658.5,1241.3 L659.5,1241.2 L660.5,1241.0 L661.5,1240.9 L662.5,1240.8 L663.5,1240.6 L664.5,1240.5 L665.5,1240.4 L666.5,1240.3 L667.5,1240.1 L668.5,1240.0 L669.5,1239.9 L670.5,1239.7 L671.5,1239.6 L672.5,1239.5 L673.5,1239.3 L674.5,1239.2 L675.5,1239.0 L676.5,1238.9 L677.5,1238.8 L678.5,1238.6 L679.5,1238.5 L680.5,1238.3 L681.5,1238.2 L682.5,1238.0 L683.5,1237.9 L684.5,1237.8 L685.5,1237.6 L686.5,1237.5 L687.5,1237.3 L688.5,1237.2 L689.5,1237.0 L690.5,1236.9 L691.5,1236.7 L692.5,1236.6 L693.5,1236.4 L694.5,1236.2 L695.5,1236.1 L696.5,1235.9 L697.5,1235.8 L698.5,1235.6 L699.5,1235.5 L700.5,1235.3 L701.5,1235.1 L702.5,1235.0 L703.5,1234.8 L704.5,1234.6 L705.5,1234.5 L706.5,1234.3 L707.5,1234.1 L708.5,1234.0 L709.5,1233.8 L710.5,1233.6 L711.5,1233.5 L712.5,1233.3 L713.5,1233.1 L714.5,1233.0 L715.5,1232.8 L716.5,1232.6 L717.5,1232.4 L718.5,1232.3 L719.5,1232.1 L720.5,1231.9 L721.5,1231.7 L722.5,1231.5 L723.5,1231.4 L724.5,1231.2 L725.5,1231.0 L726.5,1230.8 L727.5,1230.6 L728.5,1230.4 L729.5,1230.3 L730.5,1230.1 L731.5,1229.9 L732.5,1229.7 L733.5,1229.5 L734.5,1229.3 L735.5,1229.1 L736.5,1228.9 L737.5,1228.7 L738.5,1228.5 L739.5,1228.3 L740.5,1228.1 L741.5,1227.9 L742.5,1227.7 L743.5,1227.5 L744.5,1227.3 L745.5,1227.1 L746.5,1226.9 L747.5,1226.7 L748.5,1226.5 L749.5,1226.3 L750.5,1226.1 L751.5,1225.9 L752.5,1225.7 L753.5,1225.5 L754.5,1225.3 L755.5,1225.1 L756.5,1224.9 L757.5,1224.6 L758.5,1224.4 L759.5,1224.2 L760.5,1224.0 L761.5,1223.8 L762.5,1223.6 L763.5,1223.3 L764.5,1223.1 L765.5,1222.9 L766.5,1222.7 L767.5,1222.5 L768.5,1222.2 L769.5,1222.0 L770.5,1221.8 L771.5,1221.5 L772.5,1221.3 L773.5,1221.1 L774.5,1220.8 L775.5,1220.6 L776.5,1220.4 L777.5,1220.1 L778.5,1219.9 L779.5,1219.6 L780.5,1219.4 L781.5,1219.1 L782.5,1218.8 L783.5,1218.5 L784.5,1218.3 L785.5,1218.0 L786.5,1217.7 L787.5,1217.4 L788.5,1217.1 L789.5,1216.8 L790.5,1216.4 L791.5,1216.1 L792.5,1215.8 L793.5,1215.4 L794.5,1215.1 L795.5,1214.7 L796.5,1214.3 L797.5,1213.9 L798.5,1213.6 L799.5,1213.1 L800.5,1212.7 L801.5,1212.3 L802.5,1211.9 L803.5,1211.4 L804.5,1210.9 L805.5,1210.4 L806.5,1209.9 L807.5,1209.4 L808.5,1208.8 L809.5,1208.3 L810.5,1207.6 L811.5,1207.0 L812.5,1206.3 L813.5,1205.6 L814.5,1204.9 L815.5,1204.1 L816.5,1203.3 L817.5,1202.5 L818.5,1201.6 L819.5,1200.7 L820.5,1199.7 L821.5,1198.7 L822.5,1197.6 L823.5,1196.5 L824.5,1195.3 L825.5,1194.1 L826.5,1192.8 L827.5,1191.5 L828.5,1190.1 L829.5,1188.7 L830.5,1187.2 L831.5,1185.6 L832.5,1184.0 L833.5,1182.3 L834.5,1180.6 L835.5,1178.8 L836.5,1177.0 L837.5,1175.1 L838.5,1173.1 L839.5,1171.1 L840.5,1169.0 L841.5,1166.9 L842.5,1164.7 L843.5,1162.4 L844.5,1160.1 L845.5,1157.7 L846.5,1155.3 L847.5,1152.7 L848.5,1150.2 L849.5,1147.5 L850.5,1144.8 L851.5,1142.0 L852.5,1139.2 L853.5,1136.2 L854.5,1133.2 L855.5,1130.2 L856.5,1127.1 L857.5,1123.9 L858.5,1120.7 L859.5,1117.4 L860.5,1114.1 L861.5,1110.7 L862.5,1107.3 L863.5,1103.9 L864.5,1100.4 L865.5,1096.9 L866.5,1093.4 L867.5,1089.9 L868.5,1086.3 L869.5,1082.8 L870.5,1079.2 L871.5,1075.6 L872.5,1072.0 L873.5,1068.5 L874.5,1064.9 L875.5,1061.3 L876.5,1057.8 L877.5,1054.2 L878.5,1050.7 L879.5,1047.2 L880.5,1043.8 L881.5,1040.3 L882.5,1036.9 L883.5,1033.5 L884.5,1030.1 L885.5,1026.7 L886.5,1023.4 L887.5,1020.1 L888.5,1016.8 L889.5,1013.5 L890.5,1010.2 L891.5,1007.0 L892.5,1003.7 L893.5,1000.5 L894.5,997.3 L895.5,994.2 L896.5,991.0 L897.5,987.9 L898.5,984.8 L899.5,981.7 L900.5,978.6 L901.5,975.6 L902.5,972.5 L903.5,969.5 L904.5,966.5 L905.5,963.5 L906.5,960.6 L907.5,957.7 L908.5,954.8 L909.5,952.0 L910.5,949.2 L911.5,946.4 L912.5,943.6 L913.5,940.9 L914.5,938.3 L915.5,935.7 L916.5,933.1 L917.5,930.5 L918.5,928.1 L919.5,925.6 L920.5,923.2 L921.5,920.9 L922.5,918.6 L923.5,916.4 L924.5,914.2 L925.5,912.1 L926.5,910.1 L927.5,908.1 L928.5,906.1 L929.5,904.3 L930.5,902.5 L931.5,900.7 L932.5,899.1 L933.5,897.5 L934.5,896.0 L935.5,894.5 L936.5,893.1 L937.5,891.8 L938.5,890.6 L939.5,889.4 L940.5,888.2 L941.5,887.2 L942.5,886.2 L943.5,885.3 L944.5,884.4 L945.5,883.7 L946.5,882.9 L947.5,882.3 L948.5,881.7 L949.5,881.2 L950.5,880.7 L951.5,880.3 L952.5,880.0 L953.5,879.6 L954.5,879.4 L955.5,879.1 L956.5,878.9 L957.5,878.8 L958.5,878.6 L959.5,878.5 L960.5,878.4 L961.5,878.4 L962.5,878.3 L963.5,878.2 L964.5,878.2 L965.5,878.1 L966.5,878.1 L967.5,878.0 L968.5,878.0 L969.5,877.9 L970.5,877.8 L971.5,877.7 L972.5,877.5 L973.5,877.4 L974.5,877.2 L975.5,877.0 L976.5,876.8 L977.5,876.5 L978.5,876.3 L979.5,876.0 L980.5,875.6 L981.5,875.3 L982.5,874.9 L983.5,874.5 L984.5,874.1 L985.5,873.7 L986.5,873.2 L987.5,872.6 L988.5,872.1 L989.5,871.5 L990.5,870.9 L991.5,870.2 L992.5,869.5 L993.5,868.8 L994.5,868.0 L995.5,867.2 L996.5,866.4 L997.5,865.5 L998.5,864.6 L999.5,863.7 L1000.5,862.7 L1001.5,861.7 L1002.5,860.7 L1003.5,859.6 L1004.5,858.5 L1005.5,857.4 L1006.5,856.3 L1007.5,855.1 L1008.5,854.0 L1009.5,852.8 L1010.5,851.6 L1011.5,850.4 L1012.5,849.1 L1013.5,847.9 L1014.5,846.7 L1015.5,845.4 L1016.5,844.2 L1017.5,842.9 L1018.5,841.7 L1019.5,840.4 L1020.5,839.1 L1021.5,837.9 L1022.5,836.6 L1023.5,835.4 L1024.5,834.2 L1025.5,832.9 L1026.5,831.7 L1027.5,830.5 L1028.5,829.3 L1029.5,828.1 L1030.5,827.0 L1031.5,825.8 L1032.5,824.7 L1033.5,823.6 L1034.5,822.5 L1035.5,821.4 L1036.5,820.4 L1037.5,819.4 L1038.5,818.4 L1039.5,817.4 L1040.5,816.5 L1041.5,815.6 L1042.5,814.7 L1043.5,813.9 L1044.5,813.1 L1045.5,812.3 L1046.5,811.6 L1047.5,810.9 L1048.5,810.2 L1049.5,809.6 L1050.5,809.1 L1051.5,808.6 L1052.5,808.1 L1053.5,807.7 L1054.5,807.3 L1055.5,806.9 L1056.5,806.7 L1057.5,806.4 L1058.5,806.3 L1059.5,806.1 L1060.5,806.1 L1061.5,806.0 L1062.5,806.0 L1063.5,806.1 L1064.5,806.2 L1065.5,806.4 L1066.5,806.6 L1067.5,806.8 L1068.5,807.1 L1069.5,807.4 L1070.5,807.8 L1071.5,808.2 L1072.5,808.7 L1073.5,809.2 L1074.5,809.7 L1075.5,810.3 L1076.5,811.0 L1077.5,811.6 L1078.5,812.3 L1079.5,813.1 L1080.5,813.9 L1081.5,814.7 L1082.5,815.6 L1083.5,816.5 L1084.5,817.4 L1085.5,818.4 L1086.5,819.4 L1087.5,820.4 L1088.5,821.5 L1089.5,822.6 L1090.5,823.8 L1091.5,825.0 L1092.5,826.2 L1093.5,827.4 L1094.5,828.7 L1095.5,830.0 L1096.5,831.3 L1097.5,832.7 L1098.5,834.1 L1099.5,835.5 L1100.5,836.9 L1101.5,838.4 L1102.5,839.8 L1103.5,841.3 L1104.5,842.8 L1105.5,844.2 L1106.5,845.7 L1107.5,847.1 L1108.5,848.5 L1109.5,849.9 L1110.5,851.3 L1111.5,852.7 L1112.5,854.0 L1113.5,855.3 L1114.5,856.5 L1115.5,857.7 L1116.5,858.9 L1117.5,860.0 L1118.5,861.0 L1119.5,862.0 L1120.5,862.9 L1121.5,863.8 L1122.5,864.6 L1123.5,865.3 L1124.5,866.0 L1125.5,866.5 L1126.5,867.0 L1127.5,867.4 L1128.5,867.8 L1129.5,868.1 L1130.5,868.3 L1131.5,868.4 L1132.5,868.5 L1133.5,868.5 L1134.5,868.4 L1135.5,868.3 L1136.5,868.1 L1137.5,867.9 L1138.5,867.6 L1139.5,867.2 L1140.5,866.8 L1141.5,866.4 L1142.5,865.8 L1143.5,865.3 L1144.5,864.6 L1145.5,863.9 L1146.5,863.2 L1147.5,862.4 L1148.5,861.6 L1149.5,860.8 L1150.5,859.9 L1151.5,858.9 L1152.5,857.9 L1153.5,856.9 L1154.5,855.8 L1155.5,854.7 L1156.5,853.5 L1157.5,852.4 L1158.5,851.2 L1159.5,849.9 L1160.5,848.6 L1161.5,847.3 L1162.5,846.0 L1163.5,844.6 L1164.5,843.2 L1165.5,841.8 L1166.5,840.4 L1167.5,838.9 L1168.5,837.4 L1169.5,835.9 L1170.5,834.4 L1171.5,832.9 L1172.5,831.3 L1173.5,829.7 L1174.5,828.1 L1175.5,826.6 L1176.5,824.9 L1177.5,823.3 L1178.5,821.7 L1179.5,820.1 L1180.5,818.4 L1181.5,816.8 L1182.5,815.1 L1183.5,813.5 L1184.5,811.8 L1185.5,810.2 L1186.5,808.5 L1187.5,806.9 L1188.5,805.2 L1189.5,803.6 L1190.5,802.0 L1191.5,800.4 L1192.5,798.7 L1193.5,797.1 L1194.5,795.6 L1195.5,794.0 L1196.5,792.4 L1197.5,790.9 L1198.5,789.3 L1199.5,787.8 L1200.5,786.3 L1201.5,784.8 L1202.5,783.3 L1203.5,781.9 L1204.5,780.4 L1205.5,779.0 L1206.5,777.6 L1207.5,776.2 L1208.5,774.8 L1209.5,773.4 L1210.5,772.1 L1211.5,770.7 L1212.5,769.4 L1213.5,768.1 L1214.5,766.8 L1215.5,765.5 L1216.5,764.3 L1217.5,763.0 L1218.5,761.8 L1219.5,760.5 L1220.5,759.3 L1221.5,758.1 L1222.5,757.0 L1223.5,755.8 L1224.5,754.7 L1225.5,753.5 L1226.5,752.4 L1227.5,751.3 L1228.5,750.2 L1229.5,749.2 L1230.5,748.1 L1231.5,747.0 L1232.5,746.0 L1233.5,745.0 L1234.5,744.0 L1235.5,743.0 L1236.5,742.1 L1237.5,741.1 L1238.5,740.2 L1239.5,739.2 L1240.5,738.3 L1241.5,737.4 L1242.5,736.5 L1243.5,735.7 L1244.5,734.8 L1245.5,734.0 L1246.5,733.1 L1247.5,732.3 L1248.5,731.5 L1249.5,730.7 L1250.5,729.9 L1251.5,729.1 L1252.5,728.3 L1253.5,727.5 L1254.5,726.8 L1255.5,726.0 L1256.5,725.2 L1257.5,724.4 L1258.5,723.7 L1259.5,722.9 L1260.5,722.2 L1261.5,721.4 L1262.5,720.6 L1263.5,719.9 L1264.5,719.1 L1265.5,718.3 L1266.5,717.5 L1267.5,716.7 L1268.5,716.0 L1269.5,715.2 L1270.5,714.3 L1271.5,713.5 L1272.5,712.7 L1273.5,711.9 L1274.5,711.0 L1275.5,710.2 L1276.5,709.3 L1277.5,708.4 L1278.5,707.5 L1279.5,706.6 L1280.5,705.7 L1281.5,704.8 L1282.5,703.8 L1283.5,702.8 L1284.5,701.8 L1285.5,700.8 L1286.5,699.8 L1287.5,698.8 L1288.5,697.7 L1289.5,696.6 L1290.5,695.5 L1291.5,694.4 L1292.5,693.3 L1293.5,692.2 L1294.5,691.0 L1295.5,689.8 L1296.5,688.6 L1297.5,687.4 L1298.5,686.2 L1299.5,685.0 L1300.5,683.7 L1301.5,682.4 L1302.5,681.1 L1303.5,679.8 L1304.5,678.5 L1305.5,677.1 L1306.5,675.8 L1307.5,674.4 L1308.5,673.0 L1309.5,671.6 L1310.5,670.1 L1311.5,668.7 L1312.5,667.2 L1313.5,665.8 L1314.5,664.3 L1315.5,662.7 L1316.5,661.2 L1317.5,659.6 L1318.5,658.1 L1319.5,656.5 L1320.5,654.9 L1321.5,653.3 L1322.5,651.6 L1323.5,650.0 L1324.5,648.3 L1325.5,646.6 L1326.5,644.9 L1327.5,643.2 L1328.5,641.5 L1329.5,639.7 L1330.5,637.9 L1331.5,636.1 L1332.5,634.3 L1333.5,632.5 L1334.5,630.7 L1335.5,628.8 L1336.5,627.0 L1337.5,625.1 L1338.5,623.2 L1339.5,621.3 L1340.5,619.4 L1341.5,617.4 L1342.5,615.5 L1343.5,613.5 L1344.5,611.5 L1345.5,609.5 L1346.5,607.5 L1347.5,605.5 L1348.5,603.5 L1349.5,601.4 L1350.5,599.3 L1351.5,597.3 L1352.5,595.2 L1353.5,593.1 L1354.5,591.0 L1355.5,588.9 L1356.5,586.8 L1357.5,584.6 L1358.5,582.5 L1359.5,580.3 L1360.5,578.2 L1361.5,576.0 L1362.5,573.9 L1363.5,571.7 L1364.5,569.5 L1365.5,567.3 L1366.5,565.1 L1367.5,562.9 L1368.5,560.8 L1369.5,558.6 L1370.5,556.4 L1371.5,554.2 L1372.5,552.0 L1373.5,549.8 L1374.5,547.6 L1375.5,545.4 L1376.5,543.2 L1377.5,541.0 L1378.5,538.8 L1379.5,536.6 L1380.5,534.4 L1381.5,532.2 L1382.5,530.0 L1383.5,527.9 L1384.5,525.7 L1385.5,523.5 L1386.5,521.4 L1387.5,519.2 L1388.5,517.1 L1389.5,515.0 L1390.5,512.8 L1391.5,510.7 L1392.5,508.6 L1393.5,506.5 L1394.5,504.4 L1395.5,502.3 L1396.5,500.3 L1397.5,498.2 L1398.5,496.2 L1399.5,494.1 L1400.5,492.1 L1401.5,490.1 L1402.5,488.1 L1403.5,486.1 L1404.5,484.2 L1405.5,482.2 L1406.5,480.3 L1407.5,478.4 L1408.5,476.4 L1409.5,474.5 L1410.5,472.7 L1411.5,470.8 L1412.5,468.9 L1413.5,467.1 L1414.5,465.2 L1415.5,463.4 L1416.5,461.6 L1417.5,459.8 L1418.5,458.1 L1419.5,456.3 L1420.5,454.6 L1421.5,452.8 L1422.5,451.1 L1423.5,449.4 L1424.5,447.7 L1425.5,446.1 L1426.5,444.4 L1427.5,442.8 L1428.5,441.2 L1429.5,439.5 L1430.5,438.0 L1431.5,436.4 L1432.5,434.8 L1433.5,433.3 L1434.5,431.8 L1435.5,430.3 L1436.5,428.8 L1437.5,427.3 L1438.5,425.9 L1439.5,424.4 L1440.5,423.0 L1441.5,421.6 L1442.5,420.2 L1443.5,418.9 L1444.5,417.5 L1445.5,416.2 L1446.5,414.9 L1447.5,413.6 L1448.5,412.4 L1449.5,411.1 L1450.5,409.9 L1451.5,408.7 L1452.5,407.5 L1453.5,406.3 L1454.5,405.2 L1455.5,404.0 L1456.5,402.9 L1457.5,401.9 L1458.5,400.8 L1459.5,399.7 L1460.5,398.7 L1461.5,397.7 L1462.5,396.8 L1463.5,395.8 L1464.5,394.9 L1465.5,394.0 L1466.5,393.1 L1467.5,392.2 L1468.5,391.4 L1469.5,390.5 L1470.5,389.7 L1471.5,389.0 L1472.5,388.2 L1473.5,387.5 L1474.5,386.8 L1475.5,386.1 L1476.5,385.5 L1477.5,384.8 L1478.5,384.2 L1479.5,383.6 L1480.5,383.1 L1481.5,382.5 L1482.5,382.0 L1483.5,381.6 L1484.5,381.1 L1485.5,380.7 L1486.5,380.3 L1487.5,379.9 L1488.5,379.5 L1489.5,379.2 L1490.5,378.9 L1491.5,378.6 L1492.5,378.4 L1493.5,378.2 L1494.5,378.0 L1495.5,377.8 L1496.5,377.7 L1497.5,377.6 L1498.5,377.5 L1499.5,377.5 L1500.5,377.4 L1501.5,377.4 L1502.5,377.5 L1503.5,377.5 L1504.5,377.6 L1505.5,377.7 L1506.5,377.9 L1507.5,378.1 L1508.5,378.3 L1509.5,378.5 L1510.5,378.8 L1511.5,379.1 L1512.5,379.4 L1513.5,379.7 L1514.5,380.0 L1515.5,380.4 L1516.5,380.8 L1517.5,381.2 L1518.5,381.7 L1519.5,382.1 L1520.5,382.6 L1521.5,383.1 L1522.5,383.6 L1523.5,384.1 L1524.5,384.6 L1525.5,385.1 L1526.5,385.7 L1527.5,386.2 L1528.5,386.8 L1529.5,387.4 L1530.5,387.9 L1531.5,388.5 L1532.5,389.1 L1533.5,389.6 L1534.5,390.2 L1535.5,390.7 L1536.5,391.2 L1537.5,391.7 L1538.5,392.2 L1539.5,392.7 L1540.5,393.1 L1541.5,393.5 L1542.5,393.8 L1543.5,394.1 L1544.5,394.4 L1545.5,394.6 L1546.5,394.8 L1547.5,394.9 L1548.5,395.0 L1549.5,395.0 L1550.5,395.0 L1551.5,394.9 L1552.5,394.7 L1553.5,394.4 L1554.5,394.1 L1555.5,393.7 L1556.5,393.4 L1557.5,393.1 L1558.5,392.8 L1559.5,392.7 L1560.5,392.8 L1561.5,393.0 L1562.5,393.4 L1563.5,394.1 L1564.5,394.8 L1565.5,395.8 L1566.5,396.9 L1567.5,398.2 L1568.5,399.5 L1569.5,401.1 L1570.5,402.7 L1571.5,404.4 L1572.5,406.3 L1573.5,408.2 L1574.5,410.2 L1575.5,412.2 L1576.5,414.3 L1577.5,416.4 L1578.5,418.6 L1579.5,420.7 L1580.5,422.9 L1581.5,425.0 L1582.5,427.2 L1583.5,429.3 L1584.5,431.3 L1585.5,433.3 L1586.5,435.2 L1587.5,437.1 L1588.5,438.9 L1589.5,440.7 L1590.5,442.5 L1591.5,444.2 L1592.5,445.9 L1593.5,447.5 L1594.5,449.1 L1595.5,450.7 L1596.5,452.3 L1597.5,453.8 L1598.5,455.3 L1599.5,456.8 L1600.5,458.3 L1601.5,459.7 L1602.5,461.2 L1603.5,462.6 L1604.5,464.0 L1605.5,465.4 L1606.5,466.9 L1607.5,468.3 L1608.5,469.7 L1609.5,471.1 L1610.5,472.5 L1611.5,474.0 L1612.5,475.4 L1613.5,476.9 L1614.5,478.3 L1615.5,479.8 L1616.5,481.3 L1617.5,482.9 L1618.5,484.4 L1619.5,486.0 L1620.5,487.6 L1621.5,489.3 L1622.5,491.0 L1623.5,492.7 L1624.5,494.4 L1625.5,496.2 L1626.5,498.1 L1627.5,500.0 L1628.5,501.9 L1629.5,503.9 L1630.5,506.0 L1631.5,508.1 L1632.5,510.2 L1633.5,512.4 L1634.5,514.7 L1635.5,517.0 L1636.5,519.4 L1637.5,521.7 L1638.5,524.1 L1639.5,526.4 L1640.5,528.7 L1641.5,530.9 L1642.5,533.1 L1643.5,535.2 L1644.5,537.3 L1645.5,539.3 L1646.5,541.3 L1647.5,543.3 L1648.5,545.4 L1649.5,547.4 L1650.5,549.5 L1651.5,551.6 L1652.5,553.8 L1653.5,556.1 L1654.5,558.4 L1655.5,560.8 L1656.5,563.2 L1657.5,565.7 L1658.5,568.2 L1659.5,570.7 L1660.5,573.2 L1661.5,575.8 L1662.5,578.3 L1663.5,580.9 L1664.5,583.4 L1665.5,586.0 L1666.5,588.5 L1667.5,591.1 L1668.5,593.6 L1669.5,596.2 L1670.5,598.7 L1671.5,601.3 L1672.5,603.8 L1673.5,606.4 L1674.5,608.9 L1675.5,611.5 L1676.5,614.0 L1677.5,616.6 L1678.5,619.1 L1679.5,621.7 L1680.5,624.2 L1681.5,626.8 L1682.5,629.3 L1683.5,631.8 L1684.5,634.3 L1685.5,636.8 L1686.5,639.4 L1687.5,641.9 L1688.5,644.4 L1689.5,646.8 L1690.5,649.3 L1691.5,651.8 L1692.5,654.3 L1693.5,656.7 L1694.5,659.1 L1695.5,661.6 L1696.5,664.0 L1697.5,666.4 L1698.5,668.8 L1699.5,671.2 L1700.5,673.6 L1701.5,676.0 L1702.5,678.3 L1703.5,680.7 L1704.5,683.0 L1705.5,685.3 L1706.5,687.6 L1707.5,689.9 L1708.5,692.2 L1709.5,694.5 L1710.5,696.8 L1711.5,699.1 L1712.5,701.3 L1713.5,703.6 L1714.5,705.8 L1715.5,708.0 L1716.5,710.2 L1717.5,712.4 L1718.5,714.6 L1719.5,716.8 L1720.5,719.0 L1721.5,721.2 L1722.5,723.3 L1723.5,725.5 L1724.5,727.6 L1725.5,729.8 L1726.5,731.9 L1727.5,734.0 L1728.5,736.1 L1729.5,738.2 L1730.5,740.3 L1731.5,742.4 L1732.5,744.4 L1733.5,746.5 L1734.5,748.6 L1735.5,750.6 L1736.5,752.6 L1737.5,754.7 L1738.5,756.7 L1739.5,758.6 L1740.5,760.6 L1741.5,762.6 L1742.5,764.5 L1743.5,766.4 L1744.5,768.3 L1745.5,770.2 L1746.5,772.1 L1747.5,773.9 L1748.5,775.7 L1749.5,777.5 L1750.5,779.3 L1751.5,781.1 L1752.5,782.8 L1753.5,784.5 L1754.5,786.1 L1755.5,787.8 L1756.5,789.4 L1757.5,791.0 L1758.5,792.5 L1759.5,794.0 L1760.5,795.5 L1761.5,797.0 L1762.5,798.4 L1763.5,799.7 L1764.5,801.1 L1765.5,802.4 L1766.5,803.7 L1767.5,804.9 L1768.5,806.1 L1769.5,807.3 L1770.5,808.5 L1771.5,809.8 L1772.5,811.4 L1773.5,813.1 L1774.5,815.3 L1775.5,817.8 L1776.5,820.8 L1777.5,824.3 L1778.5,828.4"/>
<path stroke="#1A6FDF" d="M131.5,1251.6 L132.5,1251.5 L133.5,1251.5 L134.5,1251.5 L135.5,1251.4 L136.5,1251.4 L137.5,1251.4 L138.5,1251.4 L139.5,1251.3 L140.5,1251.3 L141.5,1251.3 L142.5,1251.3 L143.5,1251.2 L144.5,1251.2 L145.5,1251.2 L146.5,1251.2 L147.5,1251.2 L148.5,1251.1 L149.5,1251.1 L150.5,1251.1 L151.5,1251.1 L152.5,1251.1 L153.5,1251.1 L154.5,1251.0 L155.5,1251.0 L156.5,1251.0 L157.5,1251.0 L158.5,1251.0 L159.5,1251.0 L160.5,1251.0 L161.5,1250.9 L162.5,1250.9 L163.5,1250.9 L164.5,1250.9 L165.5,1250.9 L166.5,1250.9 L167.5,1250.9 L168.5,1250.9 L169.5,1250.9 L170.5,1250.9 L171.5,1250.9 L172.5,1250.9 L173.5,1250.8 L174.5,1250.8 L175.5,1250.8 L176.5,1250.8 L177.5,1250.8 L178.5,1250.8 L179.5,1250.8 L180.5,1250.8 L181.5,1250.8 L182.5,1250.8 L183.5,1250.8 L184.5,1250.8 L185.5,1250.8 L186.5,1250.8 L187.5,1250.8 L188.5,1250.8 L189.5,1250.8 L190.5,1250.8 L191.5,1250.8 L192.5,1250.8 L193.5,1250.8 L194.5,1250.8 L195.5,1250.8 L196.5,1250.8 L197.5,1250.8 L198.5,1250.8 L199.5,1250.8 L200.5,1250.9 L201.5,1250.9 L202.5,1250.9 L203.5,1250.9 L204.5,1250.9 L205.5,1250.9 L206.5,1250.9 L207.5,1250.9 L208.5,1250.9 L209.5,1250.9 L210.5,1250.9 L211.5,1250.9 L212.5,1250.9 L213.5,1250.9 L214.5,1251.0 L215.5,1251.0 L216.5,1251.0 L217.5,1251.0 L218.5,1251.0 L219.5,1251.0 L220.5,1251.0 L221.5,1251.0 L222.5,1251.0 L223.5,1251.0 L224.5,1251.1 L225.5,1251.1 L226.5,1251.1 L227.5,1251.1 L228.5,1251.1 L229.5,1251.1 L230.5,1251.1 L231.5,1251.1 L232.5,1251.2 L233.5,1251.2 L234.5,1251.2 L235.5,1251.2 L236.5,1251.2 L237.5,1251.2 L238.5,1251.2 L239.5,1251.2 L240.5,1251.3 L241.5,1251.3 L242.5,1251.3 L243.5,1251.3 L244.5,1251.3 L245.5,1251.3 L246.5,1251.3 L247.5,1251.4 L248.5,1251.4 L249.5,1251.4 L250.5,1251.4 L251.5,1251.4 L252.5,1251.4 L253.5,1251.4 L254.5,1251.4 L255.5,1251.5 L256.5,1251.5 L257.5,1251.5 L258.5,1251.5 L259.5,1251.5 L260.5,1251.5 L261.5,1251.5 L262.5,1251.6 L263.5,1251.6 L264.5,1251.6 L265.5,1251.6 L266.5,1251.6 L267.5,1251.6 L268.5,1251.6 L269.5,1251.7 L270.5,1251.7 L271.5,1251.7 L272.5,1251.7 L273.5,1251.7 L274.5,1251.7 L275.5,1251.7 L276.5,1251.7 L277.5,1251.8 L278.5,1251.8 L279.5,1251.8 L280.5,1251.8 L281.5,1251.8 L282.5,1251.8 L283.5,1251.8 L284.5,1251.8 L285.5,1251.9 L286.5,1251.9 L287.5,1251.9 L288.5,1251.9 L289.5,1251.9 L290.5,1251.9 L291.5,1251.9 L292.5,1251.9 L293.5,1251.9 L294.5,1251.9 L295.5,1252.0 L296.5,1252.0 L297.5,1252.0 L298.5,1252.0 L299.5,1252.0 L300.5,1252.0 L301.5,1252.0 L302.5,1252.0 L303.5,1252.0 L304.5,1252.0 L305.5,1252.0 L306.5,1252.0 L307.5,1252.1 L308.5,1252.1 L309.5,1252.1 L310.5,1252.1 L311.5,1252.1 L312.5,1252.1 L313.5,1252.1 L314.5,1252.1 L315.5,1252.1 L316.5,1252.1 L317.5,1252.1 L318.5,1252.1 L319.5,1252.1 L320.5,1252.1 L321.5,1252.1 L322.5,1252.1 L323.5,1252.1 L324.5,1252.1 L325.5,1252.1 L326.5,1252.1 L327.5,1252.1 L328.5,1252.1 L329.5,1252.1 L330.5,1252.1 L331.5,1252.1 L332.5,1252.1 L333.5,1252.1 L334.5,1252.1 L335.5,1252.1 L336.5,1252.1 L337.5,1252.1 L338.5,1252.1 L339.5,1252.1 L340.5,1252.1 L341.5,1252.0 L342.5,1252.0 L343.5,1252.0 L344.5,1252.0 L345.5,1252.0 L346.5,1252.0 L347.5,1252.0 L348.5,1252.0 L349.5,1252.0 L350.5,1252.0 L351.5,1251.9 L352.5,1251.9 L353.5,1251.9 L354.5,1251.9 L355.5,1251.9 L356.5,1251.9 L357.5,1251.9 L358.5,1251.8 L359.5,1251.8 L360.5,1251.8 L361.5,1251.8 L362.5,1251.8 L363.5,1251.8 L364.5,1251.7 L365.5,1251.7 L366.5,1251.7 L367.5,1251.7 L368.5,1251.6 L369.5,1251.6 L370.5,1251.6 L371.5,1251.6 L372.5,1251.6 L373.5,1251.5 L374.5,1251.5 L375.5,1251.5 L376.5,1251.4 L377.5,1251.4 L378.5,1251.4 L379.5,1251.4 L380.5,1251.3 L381.5,1251.3 L382.5,1251.3 L383.5,1251.2 L384.5,1251.2 L385.5,1251.2 L386.5,1251.1 L387.5,1251.1 L388.5,1251.1 L389.5,1251.0 L390.5,1251.0 L391.5,1250.9 L392.5,1250.9 L393.5,1250.9 L394.5,1250.8 L395.5,1250.8 L396.5,1250.7 L397.5,1250.7 L398.5,1250.7 L399.5,1250.6 L400.5,1250.6 L401.5,1250.5 L402.5,1250.5 L403.5,1250.5 L404.5,1250.4 L405.5,1250.4 L406.5,1250.3 L407.5,1250.3 L408.5,1250.2 L409.5,1250.2 L410.5,1250.2 L411.5,1250.1 L412.5,1250.1 L413.5,1250.0 L414.5,1250.0 L415.5,1249.9 L416.5,1249.9 L417.5,1249.8 L418.5,1249.8 L419.5,1249.8 L420.5,1249.7 L421.5,1249.7 L422.5,1249.6 L423.5,1249.6 L424.5,1249.5 L425.5,1249.5 L426.5,1249.5 L427.5,1249.4 L428.5,1249.4 L429.5,1249.3 L430.5,1249.3 L431.5,1249.2 L432.5,1249.2 L433.5,1249.2 L434.5,1249.1 L435.5,1249.1 L436.5,1249.0 L437.5,1249.0 L438.5,1249.0 L439.5,1248.9 L440.5,1248.9 L441.5,1248.8 L442.5,1248.8 L443.5,1248.8 L444.5,1248.7 L445.5,1248.7 L446.5,1248.7 L447.5,1248.6 L448.5,1248.6 L449.5,1248.5 L450.5,1248.5 L451.5,1248.5 L452.5,1248.5 L453.5,1248.4 L454.5,1248.4 L455.5,1248.4 L456.5,1248.3 L457.5,1248.3 L458.5,1248.3 L459.5,1248.2 L460.5,1248.2 L461.5,1248.2 L462.5,1248.2 L463.5,1248.1 L464.5,1248.1 L465.5,1248.1 L466.5,1248.1 L467.5,1248.1 L468.5,1248.0 L469.5,1248.0 L470.5,1248.0 L471.5,1248.0 L472.5,1248.0 L473.5,1248.0 L474.5,1248.0 L475.5,1247.9 L476.5,1247.9 L477.5,1247.9 L478.5,1247.9 L479.5,1247.9 L480.5,1247.9 L481.5,1247.9 L482.5,1247.9 L483.5,1247.9 L484.5,1247.9 L485.5,1247.9 L486.5,1247.9 L487.5,1247.9 L488.5,1247.9 L489.5,1247.9 L490.5,1247.9 L491.5,1247.9 L492.5,1247.9 L493.5,1247.9 L494.5,1247.9 L495.5,1247.9 L496.5,1247.9 L497.5,1247.9 L498.5,1247.9 L499.5,1247.9 L500.5,1247.9 L501.5,1247.9 L502.5,1247.9 L503.5,1248.0 L504.5,1248.0 L505.5,1248.0 L506.5,1248.0 L507.5,1248.0 L508.5,1248.0 L509.5,1248.0 L510.5,1248.0 L511.5,1248.1 L512.5,1248.1 L513.5,1248.1 L514.5,1248.1 L515.5,1248.1 L516.5,1248.1 L517.5,1248.1 L518.5,1248.2 L519.5,1248.2 L520.5,1248.2 L521.5,1248.2 L522.5,1248.2 L523.5,1248.3 L524.5,1248.3 L525.5,1248.3 L526.5,1248.3 L527.5,1248.3 L528.5,1248.3 L529.5,1248.4 L530.5,1248.4 L531.5,1248.4 L532.5,1248.4 L533.5,1248.4 L534.5,1248.5 L535.5,1248.5 L536.5,1248.5 L537.5,1248.5 L538.5,1248.5 L539.5,1248.6 L540.5,1248.6 L541.5,1248.6 L542.5,1248.6 L543.5,1248.7 L544.5,1248.7 L545.5,1248.7 L546.5,1248.7 L547.5,1248.7 L548.5,1248.8 L549.5,1248.8 L550.5,1248.8 L551.5,1248.8 L552.5,1248.8 L553.5,1248.9 L554.5,1248.9 L555.5,1248.9 L556.5,1248.9 L557.5,1248.9 L558.5,1249.0 L559.5,1249.0 L560.5,1249.0 L561.5,1249.0 L562.5,1249.0 L563.5,1249.1 L564.5,1249.1 L565.5,1249.1 L566.5,1249.1 L567.5,1249.1 L568.5,1249.1 L569.5,1249.2 L570.5,1249.2 L571.5,1249.2 L572.5,1249.2 L573.5,1249.2 L574.5,1249.2 L575.5,1249.2 L576.5,1249.3 L577.5,1249.3 L578.5,1249.3 L579.5,1249.3 L580.5,1249.3 L581.5,1249.3 L582.5,1249.3 L583.5,1249.3 L584.5,1249.3 L585.5,1249.3 L586.5,1249.4 L587.5,1249.4 L588.5,1249.4 L589.5,1249.4 L590.5,1249.4 L591.5,1249.4 L592.5,1249.4 L593.5,1249.4 L594.5,1249.4 L595.5,1249.4 L596.5,1249.4 L597.5,1249.4 L598.5,1249.4 L599.5,1249.4 L600.5,1249.4 L601.5,1249.4 L602.5,1249.4 L603.5,1249.4 L604.5,1249.4 L605.5,1249.4 L606.5,1249.3 L607.5,1249.3 L608.5,1249.3 L609.5,1249.3 L610.5,1249.3 L611.5,1249.3 L612.5,1249.3 L613.5,1249.3 L614.5,1249.2 L615.5,1249.2 L616.5,1249.2 L617.5,1249.2 L618.5,1249.2 L619.5,1249.2 L620.5,1249.1 L621.5,1249.1 L622.5,1249.1 L623.5,1249.1 L624.5,1249.0 L625.5,1249.0 L626.5,1249.0 L627.5,1248.9 L628.5,1248.9 L629.5,1248.9 L630.5,1248.8 L631.5,1248.8 L632.5,1248.8 L633.5,1248.7 L634.5,1248.7 L635.5,1248.7 L636.5,1248.6 L637.5,1248.6 L638.5,1248.5 L639.5,1248.5 L640.5,1248.4 L641.5,1248.4 L642.5,1248.3 L643.5,1248.3 L644.5,1248.2 L645.5,1248.2 L646.5,1248.1 L647.5,1248.1 L648.5,1248.0 L649.5,1247.9 L650.5,1247.9 L651.5,1247.8 L652.5,1247.8 L653.5,1247.7 L654.5,1247.6 L655.5,1247.5 L656.5,1247.5 L657.5,1247.4 L658.5,1247.3 L659.5,1247.3 L660.5,1247.2 L661.5,1247.1 L662.5,1247.0 L663.5,1246.9 L664.5,1246.8 L665.5,1246.8 L666.5,1246.7 L667.5,1246.6 L668.5,1246.5 L669.5,1246.4 L670.5,1246.3 L671.5,1246.2 L672.5,1246.1 L673.5,1246.0 L674.5,1245.9 L675.5,1245.8 L676.5,1245.7 L677.5,1245.6 L678.5,1245.5 L679.5,1245.4 L680.5,1245.2 L681.5,1245.1 L682.5,1245.0 L683.5,1244.9 L684.5,1244.8 L685.5,1244.6 L686.5,1244.5 L687.5,1244.4 L688.5,1244.3 L689.5,1244.1 L690.5,1244.0 L691.5,1243.8 L692.5,1243.7 L693.5,1243.6 L694.5,1243.4 L695.5,1243.3 L696.5,1243.1 L697.5,1243.0 L698.5,1242.8 L699.5,1242.7 L700.5,1242.5 L701.5,1242.4 L702.5,1242.2 L703.5,1242.0 L704.5,1241.9 L705.5,1241.7 L706.5,1241.5 L707.5,1241.4 L708.5,1241.2 L709.5,1241.0 L710.5,1240.8 L711.5,1240.7 L712.5,1240.5 L713.5,1240.3 L714.5,1240.1 L715.5,1239.9 L716.5,1239.8 L717.5,1239.6 L718.5,1239.4 L719.5,1239.2 L720.5,1239.0 L721.5,1238.8 L722.5,1238.6 L723.5,1238.4 L724.5,1238.2 L725.5,1238.0 L726.5,1237.8 L727.5,1237.6 L728.5,1237.4 L729.5,1237.2 L730.5,1237.0 L731.5,1236.8 L732.5,1236.6 L733.5,1236.4 L734.5,1236.2 L735.5,1236.0 L736.5,1235.7 L737.5,1235.5 L738.5,1235.3 L739.5,1235.1 L740.5,1234.9 L741.5,1234.7 L742.5,1234.5 L743.5,1234.2 L744.5,1234.0 L745.5,1233.8 L746.5,1233.6 L747.5,1233.4 L748.5,1233.1 L749.5,1232.9 L750.5,1232.7 L751.5,1232.5 L752.5,1232.3 L753.5,1232.0 L754.5,1231.8 L755.5,1231.6 L756.5,1231.4 L757.5,1231.1 L758.5,1230.9 L759.5,1230.7 L760.5,1230.5 L761.5,1230.2 L762.5,1230.0 L763.5,1229.8 L764.5,1229.6 L765.5,1229.3 L766.5,1229.1 L767.5,1228.9 L768.5,1228.7 L769.5,1228.4 L770.5,1228.2 L771.5,1228.0 L772.5,1227.8 L773.5,1227.5 L774.5,1227.3 L775.5,1227.1 L776.5,1226.9 L777.5,1226.6 L778.5,1226.4 L779.5,1226.2 L780.5,1226.0 L781.5,1225.7 L782.5,1225.5 L783.5,1225.3 L784.5,1225.1 L785.5,1224.8 L786.5,1224.6 L787.5,1224.4 L788.5,1224.2 L789.5,1224.0 L790.5,1223.7 L791.5,1223.5 L792.5,1223.3 L793.5,1223.1 L794.5,1222.9 L795.5,1222.7 L796.5,1222.5 L797.5,1222.2 L798.5,1222.0 L799.5,1221.8 L800.5,1221.6 L801.5,1221.4 L802.5,1221.2 L803.5,1221.0 L804.5,1220.8 L805.5,1220.6 L806.5,1220.4 L807.5,1220.2 L808.5,1220.0 L809.5,1219.8 L810.5,1219.6 L811.5,1219.4 L812.5,1219.2 L813.5,1219.0 L814.5,1218.8 L815.5,1218.6 L816.5,1218.4 L817.5,1218.2 L818.5,1218.0 L819.5,1217.8 L820.5,1217.7 L821.5,1217.5 L822.5,1217.3 L823.5,1217.1 L824.5,1216.9 L825.5,1216.7 L826.5,1216.5 L827.5,1216.3 L828.5,1216.2 L829.5,1216.0 L830.5,1215.8 L831.5,1215.6 L832.5,1215.4 L833.5,1215.2 L834.5,1215.0 L835.5,1214.8 L836.5,1214.6 L837.5,1214.4 L838.5,1214.3 L839.5,1214.1 L840.5,1213.9 L841.5,1213.7 L842.5,1213.5 L843.5,1213.3 L844.5,1213.1 L845.5,1212.9 L846.5,1212.7 L847.5,1212.5 L848.5,1212.3 L849.5,1212.1 L850.5,1211.9 L851.5,1211.7 L852.5,1211.4 L853.5,1211.2 L854.5,1211.0 L855.5,1210.8 L856.5,1210.6 L857.5,1210.4 L858.5,1210.1 L859.5,1209.9 L860.5,1209.7 L861.5,1209.5 L862.5,1209.2 L863.5,1209.0 L864.5,1208.7 L865.5,1208.5 L866.5,1208.2 L867.5,1207.9 L868.5,1207.6 L869.5,1207.3 L870.5,1207.0 L871.5,1206.7 L872.5,1206.4 L873.5,1206.1 L874.5,1205.7 L875.5,1205.3 L876.5,1205.0 L877.5,1204.6 L878.5,1204.2 L879.5,1203.7 L880.5,1203.3 L881.5,1202.8 L882.5,1202.4 L883.5,1201.9 L884.5,1201.4 L885.5,1200.8 L886.5,1200.3 L887.5,1199.7 L888.5,1199.1 L889.5,1198.5 L890.5,1197.8 L891.5,1197.1 L892.5,1196.4 L893.5,1195.7 L894.5,1194.9 L895.5,1194.1 L896.5,1193.3 L897.5,1192.4 L898.5,1191.5 L899.5,1190.5 L900.5,1189.5 L901.5,1188.5 L902.5,1187.4 L903.5,1186.3 L904.5,1185.1 L905.5,1183.9 L906.5,1182.6 L907.5,1181.3 L908.5,1179.9 L909.5,1178.5 L910.5,1177.0 L911.5,1175.5 L912.5,1173.9 L913.5,1172.2 L914.5,1170.5 L915.5,1168.7 L916.5,1166.8 L917.5,1164.9 L918.5,1163.0 L919.5,1160.9 L920.5,1158.8 L921.5,1156.6 L922.5,1154.3 L923.5,1152.0 L924.5,1149.6 L925.5,1147.1 L926.5,1144.5 L927.5,1141.9 L928.5,1139.1 L929.5,1136.3 L930.5,1133.4 L931.5,1130.5 L932.5,1127.4 L933.5,1124.4 L934.5,1121.2 L935.5,1118.1 L936.5,1114.9 L937.5,1111.6 L938.5,1108.4 L939.5,1105.1 L940.5,1101.9 L941.5,1098.6 L942.5,1095.4 L943.5,1092.1 L944.5,1088.9 L945.5,1085.6 L946.5,1082.4 L947.5,1079.2 L948.5,1076.0 L949.5,1072.8 L950.5,1069.7 L951.5,1066.6 L952.5,1063.5 L953.5,1060.4 L954.5,1057.4 L955.5,1054.4 L956.5,1051.4 L957.5,1048.5 L958.5,1045.7 L959.5,1042.8 L960.5,1040.0 L961.5,1037.3 L962.5,1034.6 L963.5,1031.9 L964.5,1029.3 L965.5,1026.7 L966.5,1024.2 L967.5,1021.7 L968.5,1019.3 L969.5,1016.8 L970.5,1014.5 L971.5,1012.1 L972.5,1009.9 L973.5,1007.6 L974.5,1005.4 L975.5,1003.3 L976.5,1001.1 L977.5,999.0 L978.5,997.0 L979.5,995.0 L980.5,993.0 L981.5,991.1 L982.5,989.2 L983.5,987.4 L984.5,985.6 L985.5,983.8 L986.5,982.1 L987.5,980.4 L988.5,978.8 L989.5,977.2 L990.5,975.6 L991.5,974.1 L992.5,972.6 L993.5,971.2 L994.5,969.8 L995.5,968.4 L996.5,967.0 L997.5,965.7 L998.5,964.4 L999.5,963.2 L1000.5,961.9 L1001.5,960.7 L1002.5,959.5 L1003.5,958.4 L1004.5,957.2 L1005.5,956.1 L1006.5,955.0 L1007.5,953.9 L1008.5,952.8 L1009.5,951.7 L1010.5,950.6 L1011.5,949.6 L1012.5,948.6 L1013.5,947.5 L1014.5,946.5 L1015.5,945.5 L1016.5,944.4 L1017.5,943.4 L1018.5,942.4 L1019.5,941.4 L1020.5,940.3 L1021.5,939.3 L1022.5,938.3 L1023.5,937.2 L1024.5,936.2 L1025.5,935.1 L1026.5,934.0 L1027.5,932.9 L1028.5,931.8 L1029.5,930.7 L1030.5,929.5 L1031.5,928.3 L1032.5,927.2 L1033.5,925.9 L1034.5,924.7 L1035.5,923.4 L1036.5,922.2 L1037.5,920.8 L1038.5,919.5 L1039.5,918.1 L1040.5,916.7 L1041.5,915.2 L1042.5,913.8 L1043.5,912.2 L1044.5,910.7 L1045.5,909.1 L1046.5,907.4 L1047.5,905.7 L1048.5,904.0 L1049.5,902.2 L1050.5,900.4 L1051.5,898.5 L1052.5,896.6 L1053.5,894.6 L1054.5,892.6 L1055.5,890.5 L1056.5,888.3 L1057.5,886.1 L1058.5,883.9 L1059.5,881.5 L1060.5,879.1 L1061.5,876.7 L1062.5,874.2 L1063.5,871.6 L1064.5,868.9 L1065.5,866.2 L1066.5,863.4 L1067.5,860.5 L1068.5,857.6 L1069.5,854.5 L1070.5,851.4 L1071.5,848.3 L1072.5,845.0 L1073.5,841.7 L1074.5,838.2 L1075.5,834.7 L1076.5,831.1 L1077.5,827.4 L1078.5,823.7 L1079.5,819.8 L1080.5,815.9 L1081.5,811.8 L1082.5,807.7 L1083.5,803.4 L1084.5,799.1 L1085.5,794.6 L1086.5,790.1 L1087.5,785.5 L1088.5,780.7 L1089.5,775.9 L1090.5,771.0 L1091.5,766.0 L1092.5,761.0 L1093.5,756.0 L1094.5,750.9 L1095.5,745.8 L1096.5,740.7 L1097.5,735.6 L1098.5,730.5 L1099.5,725.5 L1100.5,720.5 L1101.5,715.6 L1102.5,710.7 L1103.5,705.8 L1104.5,700.9 L1105.5,696.0 L1106.5,691.0 L1107.5,685.9 L1108.5,680.7 L1109.5,675.6 L1110.5,670.7 L1111.5,666.0 L1112.5,661.5 L1113.5,657.3 L1114.5,653.2 L1115.5,649.4 L1116.5,645.7 L1117.5,642.1 L1118.5,638.7 L1119.5,635.4 L1120.5,632.3 L1121.5,629.4 L1122.5,626.7 L1123.5,624.4 L1124.5,622.4 L1125.5,620.9 L1126.5,619.6 L1127.5,618.6 L1128.5,617.9 L1129.5,617.3 L1130.5,616.9 L1131.5,616.5 L1132.5,616.2 L1133.5,616.0 L1134.5,615.9 L1135.5,615.9 L1136.5,616.0 L1137.5,616.2 L1138.5,616.4 L1139.5,616.8 L1140.5,617.2 L1141.5,617.8 L1142.5,618.4 L1143.5,619.2 L1144.5,620.1 L1145.5,621.2 L1146.5,622.3 L1147.5,623.6 L1148.5,625.0 L1149.5,626.6 L1150.5,628.3 L1151.5,630.1 L1152.5,632.0 L1153.5,633.9 L1154.5,635.9 L1155.5,638.0 L1156.5,640.1 L1157.5,642.2 L1158.5,644.3 L1159.5,646.5 L1160.5,648.7 L1161.5,650.8 L1162.5,653.0 L1163.5,655.2 L1164.5,657.4 L1165.5,659.6 L1166.5,661.8 L1167.5,664.0 L1168.5,666.2 L1169.5,668.3 L1170.5,670.4 L1171.5,672.5 L1172.5,674.5 L1173.5,676.5 L1174.5,678.5 L1175.5,680.5 L1176.5,682.4 L1177.5,684.3 L1178.5,686.2 L1179.5,688.1 L1180.5,689.9 L1181.5,691.8 L1182.5,693.6 L1183.5,695.3 L1184.5,697.1 L1185.5,698.8 L1186.5,700.5 L1187.5,702.2 L1188.5,703.8 L1189.5,705.5 L1190.5,707.1 L1191.5,708.7 L1192.5,710.3 L1193.5,711.9 L1194.5,713.4 L1195.5,715.0 L1196.5,716.5 L1197.5,718.0 L1198.5,719.5 L1199.5,721.0 L1200.5,722.4 L1201.5,723.9 L1202.5,725.3 L1203.5,726.8 L1204.5,728.2 L1205.5,729.6 L1206.5,731.0 L1207.5,732.3 L1208.5,733.7 L1209.5,735.1 L1210.5,736.4 L1211.5,737.8 L1212.5,739.1 L1213.5,740.4 L1214.5,741.7 L1215.5,743.1 L1216.5,744.4 L1217.5,745.7 L1218.5,747.0 L1219.5,748.3 L1220.5,749.6 L1221.5,750.9 L1222.5,752.1 L1223.5,753.4 L1224.5,754.7 L1225.5,756.0 L1226.5,757.3 L1227.5,758.5 L1228.5,759.8 L1229.5,761.1 L1230.5,762.4 L1231.5,763.6 L1232.5,764.9 L1233.5,766.2 L1234.5,767.4 L1235.5,768.7 L1236.5,769.9 L1237.5,771.1 L1238.5,772.4 L1239.5,773.6 L1240.5,774.8 L1241.5,776.0 L1242.5,777.2 L1243.5,778.3 L1244.5,779.5 L1245.5,780.6 L1246.5,781.8 L1247.5,782.9 L1248.5,784.0 L1249.5,785.0 L1250.5,786.1 L1251.5,787.1 L1252.5,788.1 L1253.5,789.1 L1254.5,790.1 L1255.5,791.0 L1256.5,792.0 L1257.5,792.9 L1258.5,793.8 L1259.5,794.6 L1260.5,795.4 L1261.5,796.2 L1262.5,797.0 L1263.5,797.7 L1264.5,798.5 L1265.5,799.1 L1266.5,799.8 L1267.5,800.4 L1268.5,801.0 L1269.5,801.5 L1270.5,802.0 L1271.5,802.5 L1272.5,803.0 L1273.5,803.4 L1274.5,803.7 L1275.5,804.1 L1276.5,804.4 L1277.5,804.6 L1278.5,804.9 L1279.5,805.0 L1280.5,805.2 L1281.5,805.3 L1282.5,805.4 L1283.5,805.4 L1284.5,805.4 L1285.5,805.4 L1286.5,805.4 L1287.5,805.3 L1288.5,805.1 L1289.5,805.0 L1290.5,804.8 L1291.5,804.5 L1292.5,804.3 L1293.5,804.0 L1294.5,803.7 L1295.5,803.3 L1296.5,802.9 L1297.5,802.5 L1298.5,802.1 L1299.5,801.6 L1300.5,801.1 L1301.5,800.5 L1302.5,799.9 L1303.5,799.3 L1304.5,798.7 L1305.5,798.1 L1306.5,797.4 L1307.5,796.6 L1308.5,795.9 L1309.5,795.1 L1310.5,794.3 L1311.5,793.5 L1312.5,792.6 L1313.5,791.7 L1314.5,790.8 L1315.5,789.9 L1316.5,788.9 L1317.5,787.9 L1318.5,786.9 L1319.5,785.9 L1320.5,784.8 L1321.5,783.7 L1322.5,782.6 L1323.5,781.5 L1324.5,780.3 L1325.5,779.1 L1326.5,777.9 L1327.5,776.6 L1328.5,775.4 L1329.5,774.1 L1330.5,772.8 L1331.5,771.5 L1332.5,770.1 L1333.5,768.8 L1334.5,767.4 L1335.5,766.0 L1336.5,764.6 L1337.5,763.2 L1338.5,761.7 L1339.5,760.3 L1340.5,758.8 L1341.5,757.3 L1342.5,755.8 L1343.5,754.3 L1344.5,752.8 L1345.5,751.2 L1346.5,749.7 L1347.5,748.1 L1348.5,746.6 L1349.5,745.0 L1350.5,743.4 L1351.5,741.8 L1352.5,740.2 L1353.5,738.6 L1354.5,737.0 L1355.5,735.4 L1356.5,733.8 L1357.5,732.1 L1358.5,730.5 L1359.5,728.9 L1360.5,727.3 L1361.5,725.6 L1362.5,724.0 L1363.5,722.4 L1364.5,720.7 L1365.5,719.1 L1366.5,717.5 L1367.5,715.9 L1368.5,714.2 L1369.5,712.6 L1370.5,711.0 L1371.5,709.4 L1372.5,707.8 L1373.5,706.2 L1374.5,704.6 L1375.5,703.1 L1376.5,701.5 L1377.5,699.9 L1378.5,698.4 L1379.5,696.8 L1380.5,695.3 L1381.5,693.8 L1382.5,692.3 L1383.5,690.8 L1384.5,689.3 L1385.5,687.9 L1386.5,686.4 L1387.5,685.0 L1388.5,683.5 L1389.5,682.1 L1390.5,680.7 L1391.5,679.4 L1392.5,678.0 L1393.5,676.6 L1394.5,675.3 L1395.5,673.9 L1396.5,672.6 L1397.5,671.3 L1398.5,670.0 L1399.5,668.7 L1400.5,667.4 L1401.5,666.1 L1402.5,664.8 L1403.5,663.5 L1404.5,662.3 L1405.5,661.0 L1406.5,659.7 L1407.5,658.5 L1408.5,657.2 L1409.5,656.0 L1410.5,654.7 L1411.5,653.5 L1412.5,652.3 L1413.5,651.0 L1414.5,649.8 L1415.5,648.5 L1416.5,647.3 L1417.5,646.1 L1418.5,644.8 L1419.5,643.6 L1420.5,642.4 L1421.5,641.1 L1422.5,639.9 L1423.5,638.6 L1424.5,637.4 L1425.5,636.1 L1426.5,634.9 L1427.5,633.6 L1428.5,632.3 L1429.5,631.0 L1430.5,629.8 L1431.5,628.5 L1432.5,627.2 L1433.5,625.9 L1434.5,624.6 L1435.5,623.3 L1436.5,622.0 L1437.5,620.7 L1438.5,619.4 L1439.5,618.1 L1440.5,616.8 L1441.5,615.5 L1442.5,614.2 L1443.5,612.9 L1444.5,611.5 L1445.5,610.2 L1446.5,608.9 L1447.5,607.6 L1448.5,606.2 L1449.5,604.9 L1450.5,603.6 L1451.5,602.3 L1452.5,600.9 L1453.5,599.6 L1454.5,598.3 L1455.5,596.9 L1456.5,595.6 L1457.5,594.3 L1458.5,592.9 L1459.5,591.6 L1460.5,590.3 L1461.5,588.9 L1462.5,587.6 L1463.5,586.3 L1464.5,584.9 L1465.5,583.6 L1466.5,582.3 L1467.5,580.9 L1468.5,579.6 L1469.5,578.2 L1470.5,576.9 L1471.5,575.5 L1472.5,574.2 L1473.5,572.8 L1474.5,571.5 L1475.5,570.1 L1476.5,568.8 L1477.5,567.4 L1478.5,566.0 L1479.5,564.7 L1480.5,563.3 L1481.5,561.9 L1482.5,560.5 L1483.5,559.1 L1484.5,557.7 L1485.5,556.3 L1486.5,554.9 L1487.5,553.5 L1488.5,552.1 L1489.5,550.7 L1490.5,549.2 L1491.5,547.8 L1492.5,546.3 L1493.5,544.9 L1494.5,543.4 L1495.5,542.0 L1496.5,540.5 L1497.5,539.0 L1498.5,537.5 L1499.5,536.0 L1500.5,534.5 L1501.5,533.0 L1502.5,531.4 L1503.5,529.9 L1504.5,528.3 L1505.5,526.8 L1506.5,525.2 L1507.5,523.6 L1508.5,522.1 L1509.5,520.5 L1510.5,518.8 L1511.5,517.2 L1512.5,515.6 L1513.5,513.9 L1514.5,512.3 L1515.5,510.6 L1516.5,509.0 L1517.5,507.3 L1518.5,505.6 L1519.5,504.0 L1520.5,502.3 L1521.5,500.6 L1522.5,498.9 L1523.5,497.2 L1524.5,495.5 L1525.5,493.8 L1526.5,492.1 L1527.5,490.4 L1528.5,488.7 L1529.5,487.0 L1530.5,485.3 L1531.5,483.6 L1532.5,481.9 L1533.5,480.2 L1534.5,478.5 L1535.5,476.8 L1536.5,475.1 L1537.5,473.4 L1538.5,471.7 L1539.5,470.1 L1540.5,468.4 L1541.5,466.7 L1542.5,465.1 L1543.5,463.4 L1544.5,461.8 L1545.5,460.2 L1546.5,458.6 L1547.5,457.0 L1548.5,455.4 L1549.5,453.7 L1550.5,452.1 L1551.5,450.3 L1552.5,448.5 L1553.5,446.5 L1554.5,444.4 L1555.5,442.1 L1556.5,439.6 L1557.5,436.9 L1558.5,434.2 L1559.5,431.7 L1560.5,429.5 L1561.5,427.7 L1562.5,426.3 L1563.5,425.2 L1564.5,424.3 L1565.5,423.4 L1566.5,422.7 L1567.5,422.0 L1568.5,421.3 L1569.5,420.8 L1570.5,420.2 L1571.5,419.8 L1572.5,419.4 L1573.5,419.0 L1574.5,418.7 L1575.5,418.4 L1576.5,418.2 L1577.5,418.0 L1578.5,417.9 L1579.5,417.7 L1580.5,417.7 L1581.5,417.6 L1582.5,417.6 L1583.5,417.6 L1584.5,417.7 L1585.5,417.7 L1586.5,417.8 L1587.5,417.9 L1588.5,418.0 L1589.5,418.2 L1590.5,418.3 L1591.5,418.5 L1592.5,418.6 L1593.5,418.8 L1594.5,419.0 L1595.5,419.2 L1596.5,419.4 L1597.5,419.6 L1598.5,419.8 L1599.5,420.0 L1600.5,420.2 L1601.5,420.4 L1602.5,420.7 L1603.5,420.9 L1604.5,421.2 L1605.5,421.4 L1606.5,421.7 L1607.5,422.0 L1608.5,422.2 L1609.5,422.5 L1610.5,422.8 L1611.5,423.1 L1612.5,423.4 L1613.5,423.7 L1614.5,424.0 L1615.5,424.3 L1616.5,424.6 L1617.5,424.9 L1618.5,425.2 L1619.5,425.5 L1620.5,425.9 L1621.5,426.2 L1622.5,426.5 L1623.5,426.8 L1624.5,427.2 L1625.5,427.5 L1626.5,427.9 L1627.5,428.2 L1628.5,428.6 L1629.5,429.0 L1630.5,429.4 L1631.5,429.8 L1632.5,430.2 L1633.5,430.7 L1634.5,431.1 L1635.5,431.6 L1636.5,432.2 L1637.5,432.7 L1638.5,433.3 L1639.5,433.9 L1640.5,434.5 L1641.5,435.2 L1642.5,435.9 L1643.5,436.6 L1644.5,437.4 L1645.5,438.2 L1646.5,439.0 L1647.5,439.8 L1648.5,440.7 L1649.5,441.7 L1650.5,442.6 L1651.5,443.6 L1652.5,444.6 L1653.5,445.6 L1654.5,446.7 L1655.5,447.8 L1656.5,448.9 L1657.5,450.0 L1658.5,451.2 L1659.5,452.3 L1660.5,453.5 L1661.5,454.7 L1662.5,456.0 L1663.5,457.2 L1664.5,458.5 L1665.5,459.8 L1666.5,461.1 L1667.5,462.5 L1668.5,463.8 L1669.5,465.2 L1670.5,466.6 L1671.5,468.1 L1672.5,469.5 L1673.5,471.0 L1674.5,472.4 L1675.5,474.0 L1676.5,475.5 L1677.5,477.0 L1678.5,478.6 L1679.5,480.2 L1680.5,481.8 L1681.5,483.4 L1682.5,485.1 L1683.5,486.8 L1684.5,488.5 L1685.5,490.2 L1686.5,491.9 L1687.5,493.7 L1688.5,495.5 L1689.5,497.3 L1690.5,499.1 L1691.5,501.0 L1692.5,502.8 L1693.5,504.7 L1694.5,506.6 L1695.5,508.6 L1696.5,510.5 L1697.5,512.5 L1698.5,514.5 L1699.5,516.5 L1700.5,518.5 L1701.5,520.6 L1702.5,522.7 L1703.5,524.8 L1704.5,526.9 L1705.5,529.0 L1706.5,531.2 L1707.5,533.4 L1708.5,535.6 L1709.5,537.8 L1710.5,540.1 L1711.5,542.3 L1712.5,544.6 L1713.5,546.9 L1714.5,549.3 L1715.5,551.6 L1716.5,554.0 L1717.5,556.4 L1718.5,558.8 L1719.5,561.3 L1720.5,563.7 L1721.5,566.2 L1722.5,568.7 L1723.5,571.3 L1724.5,573.8 L1725.5,576.4 L1726.5,579.0 L1727.5,581.6 L1728.5,584.2 L1729.5,586.9 L1730.5,589.6 L1731.5,592.3 L1732.5,595.0 L1733.5,597.7 L1734.5,600.5 L1735.5,603.3 L1736.5,606.1 L1737.5,608.9 L1738.5,611.8 L1739.5,614.6 L1740.5,617.5 L1741.5,620.4 L1742.5,623.3 L1743.5,626.2 L1744.5,629.1 L1745.5,632.1 L1746.5,635.0 L1747.5,638.0 L1748.5,640.9 L1749.5,643.9 L1750.5,646.9 L1751.5,649.9 L1752.5,652.9 L1753.5,655.9 L1754.5,658.9 L1755.5,661.9 L1756.5,665.0 L1757.5,668.0 L1758.5,671.0 L1759.5,674.0 L1760.5,677.1 L1761.5,680.1 L1762.5,683.1 L1763.5,686.2 L1764.5,689.2 L1765.5,692.2 L1766.5,695.2 L1767.5,698.3 L1768.5,701.4 L1769.5,704.6 L1770.5,707.9 L1771.5,711.4 L1772.5,714.9 L1773.5,718.7 L1774.5,722.6 L1775.5,726.7 L1776.5,731.1 L1777.5,735.7 L1778.5,740.7"/>
</g>
<g fill="#000">
<rect x="945" y="865.3" width="5" height="43.2"/>
<rect x="977" y="982.0" width="4" height="43.8"/>
<rect x="1057" y="790.0" width="5" height="44.6"/>
<rect x="1133" y="598.0" width="5" height="44.4"/>
<rect x="1222" y="734.3" width="4" height="43.3"/>
<rect x="1290" y="782.1" width="4" height="43.2"/>
<rect x="1385" y="739.0" width="4" height="44.0"/>
<rect x="1490" y="359.5" width="5" height="44.4"/>
<rect x="1582" y="400.3" width="4" height="44.4"/>
<rect x="1583" y="482.2" width="5" height="43.4"/>
</g>
<g font-size="43.8">
<text x="900.3" y="857.0">421°<tspan dx="-2">C</tspan></text>
<text x="931.8" y="973.2">435°<tspan dx="-2">C</tspan></text>
<text x="1013.3" y="785.3">472°<tspan dx="-2">C</tspan></text>
<text x="1092.0" y="591.0">507°<tspan dx="-2">C</tspan></text>
<text x="1182.6" y="726.3">548°<tspan dx="-2">C</tspan></text>
<text x="1248.4" y="858.0">578°<tspan dx="-2">C</tspan></text>
<text x="1348.6" y="813.0">621°<tspan dx="-2">C</tspan></text>
<text x="1448.5" y="352.6">668°<tspan dx="-2">C</tspan></text>
<text x="1542.1" y="394.9">712°<tspan dx="-2">C</tspan></text>
<text x="1540.8" y="554.0">712°<tspan dx="-2">C</tspan></text>
</g>
<g fill="none" stroke-width="8" stroke-linecap="round">
<line x1="145" y1="86" x2="272" y2="86" stroke="#515151"/>
<line x1="145" y1="156" x2="272" y2="156" stroke="#F14040"/>
<line x1="145" y1="227" x2="272" y2="227" stroke="#1A6FDF"/>
</g>
<g font-size="56.3">
<text x="286.3" y="105.4">Sample 1</text>
<text x="286.3" y="175.2">Sample 2</text>
<text x="286.3" y="245.8">Sample 3</text>
</g>
<g font-size="70" text-anchor="middle">
<text x="241.5" y="1453">100</text>
<text x="461.1" y="1453">200</text>
<text x="680.6" y="1453">300</text>
<text x="900.2" y="1453">400</text>
<text x="1119.8" y="1453">500</text>
<text x="1339.4" y="1453">600</text>
<text x="1558.9" y="1453">700</text>
<text x="1778.5" y="1453">800</text>
</g>
<text x="712.8" y="1525.5" font-size="74.3">Temperature (°<tspan dx="-3.4">C)</tspan></text>
<text transform="translate(85.3,897.5) rotate(-90)" font-size="74.3">TCD signal/a.u.</text>
</svg></body></html>
